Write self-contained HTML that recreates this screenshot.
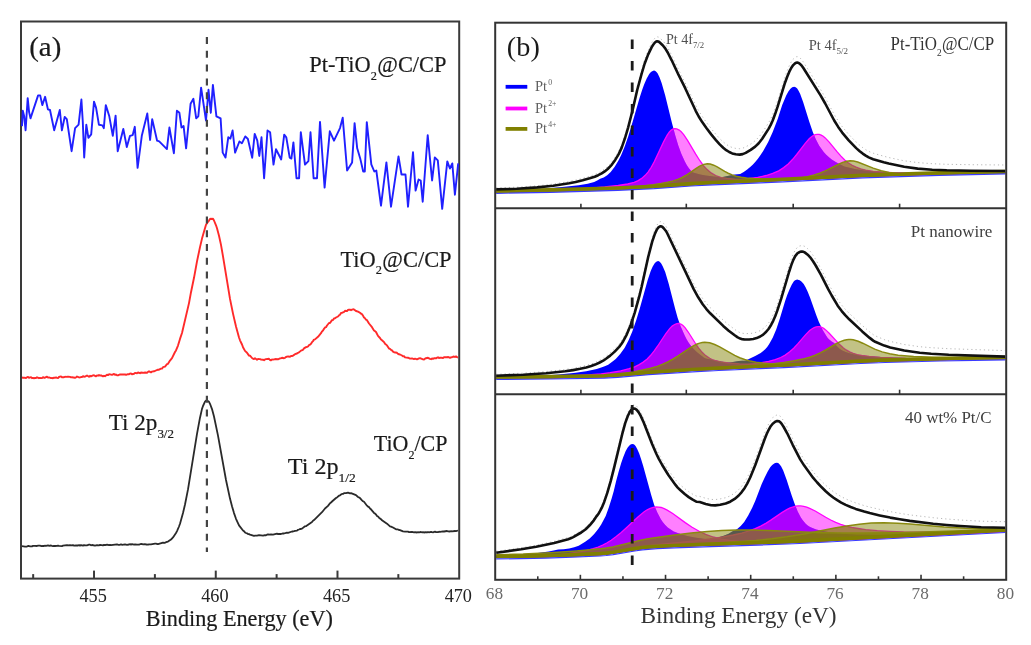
<!DOCTYPE html><html><head><meta charset="utf-8"><style>html,body{margin:0;padding:0;background:#fff;width:1031px;height:645px;overflow:hidden}svg{display:block;filter:blur(0.5px)}text{font-family:"Liberation Serif",serif}</style></head><body>
<svg width="1031" height="645" viewBox="0 0 1031 645">
<rect width="1031" height="645" fill="#fff"/>
<rect x="21" y="21.5" width="438.2" height="557.1" fill="none" stroke="#3a3a3a" stroke-width="2"/>
<line x1="33.17" y1="578.6" x2="33.17" y2="574.1" stroke="#3a3a3a" stroke-width="2"/>
<line x1="94.03" y1="578.6" x2="94.03" y2="570.6" stroke="#3a3a3a" stroke-width="2"/>
<line x1="154.89" y1="578.6" x2="154.89" y2="574.1" stroke="#3a3a3a" stroke-width="2"/>
<line x1="215.76" y1="578.6" x2="215.76" y2="570.6" stroke="#3a3a3a" stroke-width="2"/>
<line x1="276.62" y1="578.6" x2="276.62" y2="574.1" stroke="#3a3a3a" stroke-width="2"/>
<line x1="337.48" y1="578.6" x2="337.48" y2="570.6" stroke="#3a3a3a" stroke-width="2"/>
<line x1="398.34" y1="578.6" x2="398.34" y2="574.1" stroke="#3a3a3a" stroke-width="2"/>
<path d="M22.0,126.1 22.8,110.7 24.2,116.3 25.6,130.3 27.7,98.1 29.1,112.1 30.5,118.4 38.1,95.4 40.2,95.4 42.3,105.1 45.1,96.8 47.9,109.3 50.0,110.0 54.2,130.3 59.8,110.0 61.9,130.3 64.7,117.0 66.8,119.1 71.6,151.2 75.1,128.2 78.6,124.7 81.4,99.5 82.8,121.9 84.2,157.5 86.3,124.7 88.4,137.9 91.2,134.4 94.0,101.6 96.1,107.9 98.9,124.7 102.4,125.4 103.8,128.2 105.8,105.1 109.3,116.3 112.8,135.8 115.6,115.6 117.7,151.2 123.3,128.9 126.8,147.0 130.0,135.8 132.7,135.1 134.8,126.8 137.6,167.9 141.8,135.8 147.3,113.5 150.1,140.0 152.2,119.1 157.1,140.7 159.2,141.4 166.9,149.1 169.4,127.5 173.9,153.3 176.9,110.7 179.4,112.8 181.5,127.5 183.6,126.1 186.1,148.4 190.6,103.7 193.4,98.8 196.2,118.4 198.3,116.3 201.1,87.7 206.0,120.5 208.5,89.8 210.8,112.8 212.9,84.9 216.4,116.3 220.6,118.4 222.7,152.6 225.5,157.5 228.3,137.2 230.4,138.6 232.6,130.5 235.1,152.6 239.4,141.5 241.9,143.3 245.3,136.4 247.9,139.0 252.2,157.7 254.7,133.9 257.3,140.7 259.3,156.0 261.5,137.3 264.1,178.2 267.5,130.5 270.1,132.2 273.5,164.6 276.0,149.2 281.2,159.5 284.2,134.7 286.3,137.3 289.7,157.7 291.4,158.6 293.4,142.4 296.5,178.2 299.1,178.2 300.8,132.2 305.0,164.6 308.4,161.2 310.5,132.2 313.6,178.2 317.0,178.2 320.0,121.9 324.6,187.6 329.8,131.3 334.0,140.7 340.0,128.1 342.7,117.7 347.1,170.5 352.1,162.4 354.6,123.1 357.2,148.3 360.2,158.4 363.2,171.5 364.8,171.5 366.8,122.1 371.3,164.4 374.3,171.5 376.3,170.5 381.0,205.7 386.4,162.4 391.0,206.7 398.5,156.4 401.5,174.5 405.5,174.5 408.0,206.7 413.0,152.3 415.6,190.6 418.6,179.5 420.7,180.5 422.7,201.7 427.7,135.2 432.1,180.5 434.8,157.4 437.8,160.4 442.2,208.8 447.3,161.4 449.9,168.5 452.3,163.4 454.9,194.7 458.2,163.4" fill="none" stroke="#2020ff" stroke-width="1.9" stroke-linejoin="round"/>
<path d="M22.0,377.5 23.0,377.7 24.0,377.6 26.0,378.0 27.0,377.3 28.0,376.9 29.0,377.8 31.0,377.2 32.0,378.2 33.0,377.9 34.0,378.3 35.0,377.9 36.0,378.0 37.0,377.3 39.0,378.2 40.0,377.9 42.0,378.1 43.0,377.2 44.0,377.7 45.0,377.7 47.0,376.7 48.0,377.6 49.0,377.4 51.0,378.1 52.0,378.0 53.0,378.2 54.0,377.6 55.0,377.8 56.0,377.4 57.0,377.9 58.0,378.1 59.0,377.0 60.0,376.6 61.0,376.4 62.0,377.4 63.0,377.1 64.0,377.2 65.0,376.8 66.0,376.9 68.0,376.6 70.0,376.9 71.0,377.4 72.0,377.3 75.0,377.8 76.0,377.4 77.0,376.5 79.0,377.4 80.0,377.5 81.0,377.0 82.0,377.0 83.0,376.2 84.0,376.7 85.0,376.6 87.0,375.5 89.0,376.8 90.0,375.8 91.0,376.3 93.0,375.4 94.0,375.3 96.0,376.3 97.0,375.4 98.0,375.7 99.0,375.0 100.0,375.6 101.0,375.3 103.0,376.3 104.0,375.8 105.0,376.2 107.0,374.7 108.0,375.1 109.0,374.4 110.0,374.3 112.0,374.8 114.0,373.9 115.0,374.8 116.0,374.5 117.0,375.2 118.0,375.4 119.0,374.8 120.0,374.5 125.0,374.4 126.0,374.9 128.0,374.1 129.0,374.3 130.0,373.6 131.0,373.4 132.0,374.2 134.0,373.8 135.0,372.9 137.0,373.2 138.0,372.5 140.0,373.2 141.0,372.4 142.0,372.8 143.0,372.7 144.0,372.9 145.0,372.5 147.0,372.8 148.0,371.8 149.0,371.3 151.0,372.4 152.0,371.6 154.0,371.3 157.0,370.0 158.0,369.7 159.0,369.7 161.0,368.6 162.0,368.6 163.0,367.2 165.0,366.6 167.0,364.2 168.0,363.8 170.0,360.6 172.0,358.2 175.0,352.0 176.0,350.4 178.0,345.6 180.0,338.9 182.0,333.0 189.0,303.1 191.0,292.2 194.0,277.8 197.0,261.4 200.0,247.1 202.0,238.6 206.0,224.7 208.0,221.8 209.0,220.6 210.0,219.0 211.0,218.8 212.0,219.0 213.0,218.8 214.0,220.5 216.0,225.3 217.0,228.3 219.0,235.7 221.0,244.9 223.0,256.3 230.0,298.9 233.0,313.6 236.0,326.5 239.0,337.5 240.0,340.3 242.0,344.5 243.0,347.2 245.0,350.9 247.0,352.7 249.0,355.6 250.0,355.7 252.0,358.0 253.0,358.6 254.0,359.1 255.0,358.3 257.0,359.7 258.0,359.0 260.0,359.1 261.0,359.5 263.0,359.7 264.0,360.2 265.0,359.4 266.0,359.1 269.0,358.8 270.0,360.0 271.0,360.4 272.0,359.5 273.0,359.6 276.0,359.0 277.0,359.3 278.0,359.3 280.0,358.4 281.0,358.2 282.0,357.8 284.0,358.2 285.0,357.8 286.0,357.0 287.0,356.6 288.0,356.5 290.0,356.7 291.0,356.0 292.0,356.0 293.0,355.6 295.0,354.2 297.0,353.5 298.0,352.8 299.0,352.4 301.0,350.6 303.0,349.8 304.0,348.4 306.0,347.1 307.0,347.0 308.0,346.5 309.0,345.1 310.0,344.7 311.0,343.8 312.0,342.2 313.0,341.1 314.0,339.6 315.0,339.4 318.0,336.8 321.0,333.2 322.0,331.4 323.0,330.6 324.0,328.8 325.0,327.5 326.0,327.2 327.0,325.5 329.0,323.0 330.0,323.0 332.0,320.1 333.0,320.0 334.0,318.5 335.0,318.3 336.0,317.5 338.0,316.5 339.0,315.3 340.0,314.7 341.0,313.0 342.0,312.9 343.0,312.3 344.0,312.0 345.0,310.8 347.0,311.1 348.0,309.9 349.0,309.6 350.0,309.7 351.0,310.2 352.0,309.6 353.0,309.3 354.0,309.4 356.0,311.0 358.0,311.6 360.0,312.8 361.0,313.7 362.0,314.2 363.0,315.6 364.0,317.5 365.0,318.2 366.0,319.7 367.0,320.2 369.0,323.5 372.0,327.2 374.0,330.5 375.0,331.1 376.0,332.0 378.0,335.9 380.0,338.0 381.0,339.5 382.0,340.2 384.0,342.1 385.0,343.7 387.0,345.4 389.0,348.5 390.0,348.8 391.0,349.9 392.0,350.4 393.0,351.7 394.0,352.2 397.0,352.8 398.0,353.8 399.0,354.3 400.0,354.5 402.0,355.5 403.0,356.4 404.0,356.2 405.0,357.4 408.0,357.7 410.0,358.6 412.0,358.4 414.0,359.1 415.0,358.7 417.0,359.4 419.0,358.4 420.0,358.2 423.0,359.4 424.0,359.5 425.0,358.7 426.0,358.2 428.0,357.8 430.0,358.9 431.0,359.2 432.0,358.4 433.0,358.8 434.0,358.3 435.0,358.1 436.0,358.4 437.0,357.7 438.0,357.3 439.0,358.1 440.0,357.7 441.0,357.6 443.0,358.0 444.0,357.1 447.0,357.3 448.0,357.0 449.0,357.3 450.0,357.9 451.0,357.4 452.0,357.3 453.0,356.7 454.0,356.5 455.0,357.0 456.0,356.4 457.0,357.1 458.0,357.5" fill="none" stroke="#ff2a2a" stroke-width="1.9" stroke-linejoin="round"/>
<path d="M22.0,546.2 25.0,546.6 27.0,546.6 28.0,546.0 29.0,546.0 30.0,546.3 32.0,546.4 33.0,545.9 35.0,545.8 37.0,546.0 38.0,545.6 39.0,545.6 40.0,545.6 41.0,546.0 42.0,546.1 43.0,545.8 44.0,546.0 45.0,545.7 46.0,545.8 48.0,545.3 49.0,545.8 51.0,545.5 52.0,545.9 53.0,546.1 54.0,545.8 55.0,546.0 57.0,545.9 58.0,545.6 59.0,545.9 62.0,546.1 63.0,545.7 67.0,545.1 69.0,545.4 70.0,545.1 71.0,545.4 73.0,545.2 74.0,545.6 76.0,545.3 78.0,545.5 79.0,545.1 80.0,545.6 81.0,545.1 83.0,545.6 84.0,545.1 85.0,545.4 87.0,545.3 89.0,544.7 90.0,544.7 91.0,545.3 92.0,545.0 95.0,545.6 97.0,545.1 99.0,545.3 100.0,544.9 103.0,545.4 104.0,544.9 105.0,545.2 106.0,544.8 107.0,544.7 109.0,545.2 110.0,544.9 111.0,545.2 117.0,544.3 119.0,545.0 121.0,544.3 122.0,544.8 125.0,544.4 127.0,544.8 129.0,544.5 130.0,544.2 131.0,544.6 132.0,544.2 134.0,544.6 135.0,544.3 137.0,544.7 139.0,544.7 140.0,544.2 142.0,544.0 143.0,544.4 145.0,544.1 146.0,544.5 148.0,544.7 149.0,544.3 151.0,544.3 155.0,543.6 156.0,543.6 157.0,544.0 158.0,544.1 163.0,542.7 165.0,542.8 166.0,542.2 168.0,541.6 171.0,539.6 173.0,537.4 176.0,533.0 177.0,531.1 179.0,526.5 180.0,523.7 183.0,513.0 185.0,504.5 188.0,489.4 197.0,433.9 200.0,417.7 202.0,408.9 203.0,406.0 205.0,401.7 206.0,400.7 207.0,400.5 209.0,401.8 210.0,403.8 212.0,409.1 214.0,416.5 218.0,435.6 226.0,480.0 230.0,498.6 232.0,506.3 234.0,513.1 236.0,518.8 239.0,525.4 243.0,530.5 244.0,531.2 245.0,532.4 246.0,533.0 247.0,533.3 248.0,534.0 249.0,534.1 250.0,534.6 254.0,535.8 255.0,535.6 257.0,535.7 259.0,535.2 263.0,535.7 265.0,535.1 266.0,535.3 267.0,534.7 268.0,534.4 270.0,534.7 271.0,534.3 273.0,534.6 277.0,533.7 278.0,534.1 279.0,533.8 281.0,534.0 283.0,533.3 284.0,533.5 287.0,532.6 288.0,532.8 292.0,531.5 293.0,531.5 295.0,530.8 297.0,530.6 298.0,529.8 299.0,529.5 300.0,529.0 301.0,529.0 302.0,528.6 305.0,526.3 306.0,526.2 307.0,525.4 312.0,522.0 313.0,520.7 314.0,520.1 322.0,512.2 325.0,508.5 328.0,505.9 330.0,503.2 331.0,502.5 332.0,501.5 336.0,498.0 337.0,497.4 339.0,495.7 340.0,495.4 341.0,494.5 342.0,493.9 343.0,493.9 344.0,493.2 346.0,493.2 348.0,492.7 350.0,493.4 351.0,493.2 356.0,495.2 358.0,497.0 359.0,497.4 360.0,498.1 362.0,500.4 363.0,501.3 364.0,501.8 367.0,505.7 368.0,506.6 369.0,507.1 370.0,508.5 371.0,509.3 374.0,512.9 375.0,513.6 376.0,514.5 377.0,515.9 378.0,516.5 379.0,517.7 381.0,519.2 382.0,520.3 387.0,523.7 390.0,526.4 391.0,526.6 393.0,527.5 396.0,529.3 398.0,529.4 399.0,530.0 400.0,530.1 403.0,531.4 405.0,531.6 408.0,531.7 409.0,532.1 412.0,531.9 414.0,532.4 415.0,532.2 417.0,532.5 418.0,532.2 419.0,532.4 421.0,532.0 422.0,532.3 423.0,532.1 424.0,532.5 426.0,532.2 427.0,532.5 428.0,532.0 429.0,532.3 431.0,531.8 432.0,532.2 433.0,532.3 435.0,531.7 436.0,532.1 438.0,532.2 439.0,531.7 440.0,531.8 443.0,531.3 444.0,531.5 447.0,531.0 448.0,531.4 450.0,531.5 451.0,531.2 452.0,531.4 455.0,531.0 456.0,531.1 458.0,530.5" fill="none" stroke="#2a2a2a" stroke-width="1.8" stroke-linejoin="round"/>
<line x1="206.9" y1="37" x2="206.9" y2="552" stroke="#444" stroke-width="2.2" stroke-dasharray="7 6.8"/>
<text transform="translate(29.22,55.90) scale(1.026,1)" font-size="28.2" fill="#1a1a1a" stroke="#1a1a1a" stroke-width="0.2">(a)</text>
<text transform="translate(309.20,72.20) scale(0.934,1)" font-size="24" fill="#1a1a1a" stroke="#1a1a1a" stroke-width="0.2">Pt-TiO<tspan font-size="0.55em" dy="0.600em">2</tspan><tspan dy="-0.33em" dx="0.02em">@C/CP</tspan></text>
<text transform="translate(340.43,266.50) scale(0.942,1)" font-size="23.8" fill="#1a1a1a" stroke="#1a1a1a" stroke-width="0.2">TiO<tspan font-size="0.55em" dy="0.600em">2</tspan><tspan dy="-0.33em" dx="0.02em">@C/CP</tspan></text>
<text transform="translate(373.82,451.20) scale(0.956,1)" font-size="23" fill="#1a1a1a" stroke="#1a1a1a" stroke-width="0.2">TiO<tspan font-size="0.55em" dy="0.600em">2</tspan><tspan dy="-0.33em">/CP</tspan></text>
<text transform="translate(108.72,430.10) scale(0.964,1)" font-size="24" fill="#1a1a1a" stroke="#1a1a1a" stroke-width="0.2">Ti 2p<tspan font-size="0.56em" dy="0.589em">3/2</tspan></text>
<text transform="translate(287.80,474.30) scale(1.005,1)" font-size="24" fill="#1a1a1a" stroke="#1a1a1a" stroke-width="0.2">Ti 2p<tspan font-size="0.56em" dy="0.589em">1/2</tspan></text>
<text transform="translate(145.86,625.90) scale(0.987,1)" font-size="22.5" fill="#1a1a1a" stroke="#1a1a1a" stroke-width="0.2">Binding Energy (eV)</text>
<text transform="translate(93.13,601.60) scale(0.960,1)" font-size="19" fill="#222222" text-anchor="middle">455</text>
<text transform="translate(214.86,601.60) scale(0.960,1)" font-size="19" fill="#222222" text-anchor="middle">460</text>
<text transform="translate(336.58,601.60) scale(0.960,1)" font-size="19" fill="#222222" text-anchor="middle">465</text>
<text transform="translate(458.30,601.60) scale(0.960,1)" font-size="19" fill="#222222" text-anchor="middle">470</text>
<clipPath id="cb0"><path d="M496.2,190.8 520.7,189.9 542.7,188.7 562.2,187.1 578.7,185.2 587.7,183.7 594.2,181.9 597.2,180.6 600.2,178.8 603.7,177.5 607.2,175.2 610.7,171.9 614.7,166.8 618.2,161.1 621.2,155.1 624.7,146.6 628.2,136.4 631.7,125.0 639.7,97.5 642.2,89.8 644.2,84.2 646.7,78.4 649.2,74.1 650.7,72.3 651.7,71.5 653.2,70.7 654.2,70.6 655.7,71.2 656.7,72.2 657.7,73.6 659.7,77.7 661.7,83.2 665.2,95.6 671.7,121.9 675.2,135.2 678.2,145.3 681.2,153.6 684.7,161.3 686.7,164.9 688.7,168.0 692.2,172.3 694.7,173.1 700.2,174.5 705.7,175.4 713.7,176.4 723.2,177.3 744.7,178.4 769.7,178.7 801.7,178.2 869.2,175.8 924.7,174.3 967.7,173.3 1005.2,172.7 1005.2,173.1 937.7,174.5 860.2,177.1 782.7,181.0 707.2,184.3 691.2,185.2 654.2,187.9 619.2,189.5 551.2,191.5 496.2,192.5 Z"/><path d="M496.2,192.1 538.7,191.3 586.2,189.8 619.7,188.4 649.7,186.5 672.2,184.3 703.7,180.3 716.7,178.3 734.7,174.6 740.2,173.9 743.7,171.9 747.2,169.5 750.2,167.1 752.7,164.8 755.2,162.1 757.7,159.0 760.2,155.6 763.2,150.9 768.2,141.9 772.7,131.9 777.7,119.0 782.2,105.1 786.2,95.5 788.2,91.7 790.2,89.0 792.2,87.3 793.2,86.9 794.2,86.7 795.7,87.2 797.2,88.6 798.7,90.9 800.2,94.1 803.2,102.3 809.2,121.6 812.7,131.8 815.7,139.1 819.2,145.7 823.7,152.0 826.2,154.8 828.7,157.1 831.7,159.4 835.7,161.9 844.2,166.5 854.7,168.9 864.7,170.4 877.2,171.6 891.7,172.4 907.7,172.7 927.7,172.8 1005.2,172.3 1005.2,173.1 971.7,173.7 935.2,174.6 881.7,176.3 857.2,177.2 782.7,181.0 706.7,184.3 691.2,185.2 654.7,187.9 621.2,189.5 552.7,191.5 496.2,192.5 Z"/></clipPath>
<clipPath id="cbm0"><path d="M496.2,190.8 520.7,189.9 542.7,188.7 562.2,187.1 578.7,185.2 587.7,183.7 594.2,181.9 597.2,180.6 600.2,178.8 603.7,177.5 607.2,175.2 610.7,171.9 614.7,166.8 618.2,161.1 621.2,155.1 624.7,146.6 628.2,136.4 631.7,125.0 639.7,97.5 642.2,89.8 644.2,84.2 646.7,78.4 649.2,74.1 650.7,72.3 651.7,71.5 653.2,70.7 654.2,70.6 655.7,71.2 656.7,72.2 657.7,73.6 659.7,77.7 661.7,83.2 665.2,95.6 671.7,121.9 675.2,135.2 678.2,145.3 681.2,153.6 684.7,161.3 686.7,164.9 688.7,168.0 692.2,172.3 694.7,173.1 700.2,174.5 705.7,175.4 713.7,176.4 723.2,177.3 744.7,178.4 769.7,178.7 801.7,178.2 869.2,175.8 924.7,174.3 967.7,173.3 1005.2,172.7 1005.2,173.1 937.7,174.5 860.2,177.1 782.7,181.0 707.2,184.3 691.2,185.2 654.2,187.9 619.2,189.5 551.2,191.5 496.2,192.5 Z"/><path d="M496.2,192.1 538.7,191.3 586.2,189.8 619.7,188.4 649.7,186.5 672.2,184.3 703.7,180.3 716.7,178.3 734.7,174.6 740.2,173.9 743.7,171.9 747.2,169.5 750.2,167.1 752.7,164.8 755.2,162.1 757.7,159.0 760.2,155.6 763.2,150.9 768.2,141.9 772.7,131.9 777.7,119.0 782.2,105.1 786.2,95.5 788.2,91.7 790.2,89.0 792.2,87.3 793.2,86.9 794.2,86.7 795.7,87.2 797.2,88.6 798.7,90.9 800.2,94.1 803.2,102.3 809.2,121.6 812.7,131.8 815.7,139.1 819.2,145.7 823.7,152.0 826.2,154.8 828.7,157.1 831.7,159.4 835.7,161.9 844.2,166.5 854.7,168.9 864.7,170.4 877.2,171.6 891.7,172.4 907.7,172.7 927.7,172.8 1005.2,172.3 1005.2,173.1 971.7,173.7 935.2,174.6 881.7,176.3 857.2,177.2 782.7,181.0 706.7,184.3 691.2,185.2 654.7,187.9 621.2,189.5 552.7,191.5 496.2,192.5 Z"/><path d="M496.2,191.8 521.2,191.3 545.7,190.5 568.2,189.5 588.2,188.3 604.7,187.0 618.2,185.5 627.7,184.0 634.2,182.3 638.2,180.6 641.7,178.4 645.2,175.3 648.2,171.8 651.2,167.3 654.2,161.9 663.7,141.6 667.2,135.1 669.2,132.2 671.2,130.1 673.2,128.9 674.7,128.6 676.7,128.9 679.2,130.1 681.2,131.8 683.7,134.7 687.7,140.6 695.7,154.2 699.7,160.5 703.7,165.9 707.2,169.6 711.2,172.9 715.7,175.5 720.7,177.3 726.7,178.4 734.7,179.2 745.7,179.5 761.7,179.7 779.7,179.5 803.2,178.8 861.7,176.5 893.2,175.5 955.2,173.8 1005.2,172.9 1005.2,173.1 968.7,173.7 928.7,174.8 861.2,177.1 782.7,181.0 707.2,184.3 691.2,185.2 654.2,187.9 618.2,189.6 550.7,191.5 496.2,192.5 Z"/><path d="M496.2,192.3 533.7,191.7 576.7,190.5 613.7,189.3 644.7,187.7 663.2,186.5 728.7,180.9 745.2,179.2 757.7,177.3 766.2,175.5 772.7,173.4 778.7,170.8 783.7,167.6 788.2,163.9 792.7,159.3 796.7,154.5 805.2,143.4 809.2,138.8 811.2,137.0 813.2,135.6 815.2,134.7 817.2,134.3 819.2,134.4 821.2,135.1 823.2,136.3 825.2,137.9 829.2,142.1 837.2,151.9 840.7,155.9 844.7,159.9 848.2,162.7 852.2,165.3 856.2,167.2 860.7,168.8 865.7,170.1 873.2,171.3 882.2,172.1 892.7,172.7 905.7,173.1 935.7,173.2 1005.2,172.5 1005.2,173.1 936.2,174.6 885.7,176.1 858.7,177.2 782.7,181.0 706.7,184.3 691.2,185.2 654.7,187.9 620.2,189.5 552.2,191.5 496.2,192.5 Z"/></clipPath>
<path d="M496.2,190.8 520.7,189.9 542.7,188.7 562.2,187.1 578.7,185.2 587.7,183.7 594.2,181.9 597.2,180.6 600.2,178.8 603.7,177.5 607.2,175.2 610.7,171.9 614.7,166.8 618.2,161.1 621.2,155.1 624.7,146.6 628.2,136.4 631.7,125.0 639.7,97.5 642.2,89.8 644.2,84.2 646.7,78.4 649.2,74.1 650.7,72.3 651.7,71.5 653.2,70.7 654.2,70.6 655.7,71.2 656.7,72.2 657.7,73.6 659.7,77.7 661.7,83.2 665.2,95.6 671.7,121.9 675.2,135.2 678.2,145.3 681.2,153.6 684.7,161.3 686.7,164.9 688.7,168.0 692.2,172.3 694.7,173.1 700.2,174.5 705.7,175.4 713.7,176.4 723.2,177.3 744.7,178.4 769.7,178.7 801.7,178.2 869.2,175.8 924.7,174.3 967.7,173.3 1005.2,172.7 1005.2,173.1 937.7,174.5 860.2,177.1 782.7,181.0 707.2,184.3 691.2,185.2 654.2,187.9 619.2,189.5 551.2,191.5 496.2,192.5 Z" fill="#0000ff"/>
<path d="M496.2,192.1 538.7,191.3 586.2,189.8 619.7,188.4 649.7,186.5 672.2,184.3 703.7,180.3 716.7,178.3 734.7,174.6 740.2,173.9 743.7,171.9 747.2,169.5 750.2,167.1 752.7,164.8 755.2,162.1 757.7,159.0 760.2,155.6 763.2,150.9 768.2,141.9 772.7,131.9 777.7,119.0 782.2,105.1 786.2,95.5 788.2,91.7 790.2,89.0 792.2,87.3 793.2,86.9 794.2,86.7 795.7,87.2 797.2,88.6 798.7,90.9 800.2,94.1 803.2,102.3 809.2,121.6 812.7,131.8 815.7,139.1 819.2,145.7 823.7,152.0 826.2,154.8 828.7,157.1 831.7,159.4 835.7,161.9 844.2,166.5 854.7,168.9 864.7,170.4 877.2,171.6 891.7,172.4 907.7,172.7 927.7,172.8 1005.2,172.3 1005.2,173.1 971.7,173.7 935.2,174.6 881.7,176.3 857.2,177.2 782.7,181.0 706.7,184.3 691.2,185.2 654.7,187.9 621.2,189.5 552.7,191.5 496.2,192.5 Z" fill="#0000ff"/>
<path d="M496.2,191.8 521.2,191.3 545.7,190.5 568.2,189.5 588.2,188.3 604.7,187.0 618.2,185.5 627.7,184.0 634.2,182.3 638.2,180.6 641.7,178.4 645.2,175.3 648.2,171.8 651.2,167.3 654.2,161.9 663.7,141.6 667.2,135.1 669.2,132.2 671.2,130.1 673.2,128.9 674.7,128.6 676.7,128.9 679.2,130.1 681.2,131.8 683.7,134.7 687.7,140.6 695.7,154.2 699.7,160.5 703.7,165.9 707.2,169.6 711.2,172.9 715.7,175.5 720.7,177.3 726.7,178.4 734.7,179.2 745.7,179.5 761.7,179.7 779.7,179.5 803.2,178.8 861.7,176.5 893.2,175.5 955.2,173.8 1005.2,172.9 1005.2,173.1 968.7,173.7 928.7,174.8 861.2,177.1 782.7,181.0 707.2,184.3 691.2,185.2 654.2,187.9 618.2,189.6 550.7,191.5 496.2,192.5 Z" fill="#ff00ff" fill-opacity="0.5"/>
<path d="M496.2,192.3 533.7,191.7 576.7,190.5 613.7,189.3 644.7,187.7 663.2,186.5 728.7,180.9 745.2,179.2 757.7,177.3 766.2,175.5 772.7,173.4 778.7,170.8 783.7,167.6 788.2,163.9 792.7,159.3 796.7,154.5 805.2,143.4 809.2,138.8 811.2,137.0 813.2,135.6 815.2,134.7 817.2,134.3 819.2,134.4 821.2,135.1 823.2,136.3 825.2,137.9 829.2,142.1 837.2,151.9 840.7,155.9 844.7,159.9 848.2,162.7 852.2,165.3 856.2,167.2 860.7,168.8 865.7,170.1 873.2,171.3 882.2,172.1 892.7,172.7 905.7,173.1 935.7,173.2 1005.2,172.5 1005.2,173.1 936.2,174.6 885.7,176.1 858.7,177.2 782.7,181.0 706.7,184.3 691.2,185.2 654.7,187.9 620.2,189.5 552.2,191.5 496.2,192.5 Z" fill="#ff00ff" fill-opacity="0.5"/>
<g clip-path="url(#cb0)"><path d="M496.2,191.8 521.2,191.3 545.7,190.5 568.2,189.5 588.2,188.3 604.7,187.0 618.2,185.5 627.7,184.0 634.2,182.3 638.2,180.6 641.7,178.4 645.2,175.3 648.2,171.8 651.2,167.3 654.2,161.9 663.7,141.6 667.2,135.1 669.2,132.2 671.2,130.1 673.2,128.9 674.7,128.6 676.7,128.9 679.2,130.1 681.2,131.8 683.7,134.7 687.7,140.6 695.7,154.2 699.7,160.5 703.7,165.9 707.2,169.6 711.2,172.9 715.7,175.5 720.7,177.3 726.7,178.4 734.7,179.2 745.7,179.5 761.7,179.7 779.7,179.5 803.2,178.8 861.7,176.5 893.2,175.5 955.2,173.8 1005.2,172.9 1005.2,173.1 968.7,173.7 928.7,174.8 861.2,177.1 782.7,181.0 707.2,184.3 691.2,185.2 654.2,187.9 618.2,189.6 550.7,191.5 496.2,192.5 Z" fill="#ff00ff" fill-opacity="0.34"/><path d="M496.2,192.3 533.7,191.7 576.7,190.5 613.7,189.3 644.7,187.7 663.2,186.5 728.7,180.9 745.2,179.2 757.7,177.3 766.2,175.5 772.7,173.4 778.7,170.8 783.7,167.6 788.2,163.9 792.7,159.3 796.7,154.5 805.2,143.4 809.2,138.8 811.2,137.0 813.2,135.6 815.2,134.7 817.2,134.3 819.2,134.4 821.2,135.1 823.2,136.3 825.2,137.9 829.2,142.1 837.2,151.9 840.7,155.9 844.7,159.9 848.2,162.7 852.2,165.3 856.2,167.2 860.7,168.8 865.7,170.1 873.2,171.3 882.2,172.1 892.7,172.7 905.7,173.1 935.7,173.2 1005.2,172.5 1005.2,173.1 936.2,174.6 885.7,176.1 858.7,177.2 782.7,181.0 706.7,184.3 691.2,185.2 654.7,187.9 620.2,189.5 552.2,191.5 496.2,192.5 Z" fill="#ff00ff" fill-opacity="0.34"/></g>
<path d="M496.2,191.8 521.2,191.3 545.7,190.5 568.2,189.5 588.2,188.3 604.7,187.0 618.2,185.5 627.7,184.0 634.2,182.3 638.2,180.6 641.7,178.4 645.2,175.3 648.2,171.8 651.2,167.3 654.2,161.9 663.7,141.6 667.2,135.1 669.2,132.2 671.2,130.1 673.2,128.9 674.7,128.6 676.7,128.9 679.2,130.1 681.2,131.8 683.7,134.7 687.7,140.6 695.7,154.2 699.7,160.5 703.7,165.9 707.2,169.6 711.2,172.9 715.7,175.5 720.7,177.3 726.7,178.4 734.7,179.2 745.7,179.5 761.7,179.7 779.7,179.5 803.2,178.8 861.7,176.5 893.2,175.5 955.2,173.8 1005.2,172.9" fill="none" stroke="#ff00ff" stroke-width="1.3"/>
<path d="M496.2,192.3 533.7,191.7 576.7,190.5 613.7,189.3 644.7,187.7 663.2,186.5 728.7,180.9 745.2,179.2 757.7,177.3 766.2,175.5 772.7,173.4 778.7,170.8 783.7,167.6 788.2,163.9 792.7,159.3 796.7,154.5 805.2,143.4 809.2,138.8 811.2,137.0 813.2,135.6 815.2,134.7 817.2,134.3 819.2,134.4 821.2,135.1 823.2,136.3 825.2,137.9 829.2,142.1 837.2,151.9 840.7,155.9 844.7,159.9 848.2,162.7 852.2,165.3 856.2,167.2 860.7,168.8 865.7,170.1 873.2,171.3 882.2,172.1 892.7,172.7 905.7,173.1 935.7,173.2 1005.2,172.5" fill="none" stroke="#ff00ff" stroke-width="1.3"/>
<path d="M496.2,192.2 547.2,191.1 599.2,189.2 614.7,188.3 628.7,187.3 641.7,186.2 653.2,184.8 661.2,183.6 667.7,182.3 673.2,180.9 677.7,179.4 681.7,177.7 685.7,175.5 696.2,168.3 699.7,166.1 703.7,164.4 707.2,163.8 710.2,164.1 713.7,165.2 717.2,166.9 724.7,171.3 728.2,173.2 732.2,174.9 736.2,176.2 741.2,177.2 746.7,177.9 753.7,178.5 762.7,178.9 779.2,179.1 798.2,178.8 869.2,176.2 908.2,175.1 961.2,173.7 1005.2,172.9 1005.2,173.1 969.7,173.7 931.2,174.7 861.7,177.0 782.7,181.0 707.2,184.3 691.2,185.2 654.2,187.9 618.2,189.6 550.7,191.5 496.2,192.5 Z" fill="#808000" fill-opacity="0.48"/>
<path d="M496.2,192.4 525.7,192.0 559.2,191.3 603.7,190.0 629.2,189.0 656.7,187.6 699.2,184.5 763.7,181.2 786.7,179.6 795.2,178.7 802.2,177.7 808.2,176.5 814.2,175.0 819.7,173.2 825.2,170.9 839.2,164.0 842.7,162.4 846.7,161.2 850.2,160.7 853.7,161.0 857.7,162.0 873.2,168.1 881.2,170.7 889.2,172.4 898.2,173.5 908.7,174.0 922.7,174.1 1005.2,172.9 1005.2,173.1 968.7,173.7 928.7,174.8 861.2,177.1 782.7,181.0 707.2,184.3 691.2,185.2 654.2,187.9 618.7,189.6 551.2,191.5 496.2,192.5 Z" fill="#808000" fill-opacity="0.48"/>
<g clip-path="url(#cbm0)"><path d="M496.2,192.2 547.2,191.1 599.2,189.2 614.7,188.3 628.7,187.3 641.7,186.2 653.2,184.8 661.2,183.6 667.7,182.3 673.2,180.9 677.7,179.4 681.7,177.7 685.7,175.5 696.2,168.3 699.7,166.1 703.7,164.4 707.2,163.8 710.2,164.1 713.7,165.2 717.2,166.9 724.7,171.3 728.2,173.2 732.2,174.9 736.2,176.2 741.2,177.2 746.7,177.9 753.7,178.5 762.7,178.9 779.2,179.1 798.2,178.8 869.2,176.2 908.2,175.1 961.2,173.7 1005.2,172.9 1005.2,173.1 969.7,173.7 931.2,174.7 861.7,177.0 782.7,181.0 707.2,184.3 691.2,185.2 654.2,187.9 618.2,189.6 550.7,191.5 496.2,192.5 Z" fill="#808000" fill-opacity="0.42"/><path d="M496.2,192.4 525.7,192.0 559.2,191.3 603.7,190.0 629.2,189.0 656.7,187.6 699.2,184.5 763.7,181.2 786.7,179.6 795.2,178.7 802.2,177.7 808.2,176.5 814.2,175.0 819.7,173.2 825.2,170.9 839.2,164.0 842.7,162.4 846.7,161.2 850.2,160.7 853.7,161.0 857.7,162.0 873.2,168.1 881.2,170.7 889.2,172.4 898.2,173.5 908.7,174.0 922.7,174.1 1005.2,172.9 1005.2,173.1 968.7,173.7 928.7,174.8 861.2,177.1 782.7,181.0 707.2,184.3 691.2,185.2 654.2,187.9 618.7,189.6 551.2,191.5 496.2,192.5 Z" fill="#808000" fill-opacity="0.42"/></g>
<path d="M496.2,192.2 547.2,191.1 599.2,189.2 614.7,188.3 628.7,187.3 641.7,186.2 653.2,184.8 661.2,183.6 667.7,182.3 673.2,180.9 677.7,179.4 681.7,177.7 685.7,175.5 696.2,168.3 699.7,166.1 703.7,164.4 707.2,163.8 710.2,164.1 713.7,165.2 717.2,166.9 724.7,171.3 728.2,173.2 732.2,174.9 736.2,176.2 741.2,177.2 746.7,177.9 753.7,178.5 762.7,178.9 779.2,179.1 798.2,178.8 869.2,176.2 908.2,175.1 961.2,173.7 1005.2,172.9" fill="none" stroke="#8a8a10" stroke-width="1.5"/>
<path d="M496.2,192.4 525.7,192.0 559.2,191.3 603.7,190.0 629.2,189.0 656.7,187.6 699.2,184.5 763.7,181.2 786.7,179.6 795.2,178.7 802.2,177.7 808.2,176.5 814.2,175.0 819.7,173.2 825.2,170.9 839.2,164.0 842.7,162.4 846.7,161.2 850.2,160.7 853.7,161.0 857.7,162.0 873.2,168.1 881.2,170.7 889.2,172.4 898.2,173.5 908.7,174.0 922.7,174.1 1005.2,172.9" fill="none" stroke="#8a8a10" stroke-width="1.5"/>
<path d="M1005.2,173.9 939.2,175.3 862.7,177.8 782.7,181.8 707.2,185.1 691.2,186.0 654.2,188.7 617.7,190.4 550.2,192.3 496.2,193.3" fill="none" stroke="#3a3aff" stroke-width="1.2"/>
<path d="M1005.2,171.4 939.2,172.8 862.7,175.3 782.7,179.3 707.2,182.6 691.2,183.5 654.2,186.2 617.7,187.9 550.2,189.8 496.2,190.8" fill="none" stroke="#808000" stroke-width="3.4"/>
<path d="M496.2,187.9 516.7,187.2 537.7,185.8 553.2,184.1 569.2,181.5 575.2,180.2 582.2,178.5 589.2,176.4 594.2,174.7 598.2,173.0 601.7,171.1 604.7,169.0 607.7,166.5 611.7,162.2 615.2,157.2 618.7,151.3 621.7,144.6 625.2,134.4 628.2,124.1 632.7,106.2 637.2,86.4 641.7,69.7 644.7,59.6 648.2,50.3 651.7,42.9 653.2,40.4 654.7,38.4 656.2,37.2 657.2,36.8 658.2,37.0 659.2,37.5 662.7,40.6 665.2,43.6 667.7,47.6 671.7,55.3 678.7,70.0 685.2,82.9 695.7,105.3 698.7,110.9 702.2,116.4 706.2,122.1 711.2,128.6 715.7,134.1 719.7,138.6 723.2,141.9 726.2,144.3 729.2,146.2 732.2,147.5 735.7,148.4 739.7,148.7 742.7,148.2 745.7,146.9 750.7,144.0 755.2,140.7 758.7,137.2 762.2,132.8 768.7,122.6 770.7,118.9 772.7,114.5 775.2,107.8 777.7,100.4 784.7,77.6 787.2,70.7 789.2,65.9 791.2,62.0 793.2,59.1 795.2,57.2 796.2,56.8 797.2,56.6 798.7,57.0 800.2,58.1 801.7,59.7 803.2,61.8 820.7,89.6 825.2,97.6 834.2,114.5 838.2,120.9 842.2,126.6 848.7,134.4 856.2,142.1 859.7,145.2 862.7,147.6 865.7,149.6 868.7,151.4 873.2,153.2 883.7,156.2 888.7,157.5 904.2,160.8 917.7,162.6 932.2,163.7 946.7,164.3 971.2,164.7 1005.2,165.0" fill="none" stroke="#b8b8b8" stroke-width="1" stroke-dasharray="1.2 3"/>
<path d="M496.2,189.4 516.7,188.8 537.2,187.4 553.2,185.7 569.2,183.2 575.7,181.9 582.7,180.2 589.7,178.3 594.7,176.7 598.2,175.2 601.7,173.4 604.7,171.4 607.7,169.0 611.7,164.8 615.2,159.9 618.7,154.1 621.7,147.6 625.2,137.5 628.2,127.3 632.7,109.7 637.2,90.0 641.7,73.5 644.7,63.5 648.2,54.4 651.7,47.1 653.2,44.7 654.7,42.8 656.2,41.6 657.2,41.3 658.2,41.5 659.2,42.0 662.7,45.3 665.2,48.4 667.7,52.5 671.7,60.3 678.7,75.2 685.2,88.2 695.7,110.8 698.7,116.5 702.2,122.1 706.2,127.8 711.2,134.4 715.7,139.9 719.7,144.4 723.2,147.8 726.2,150.2 729.2,152.0 732.2,153.4 735.7,154.3 739.7,154.6 742.7,154.1 745.7,152.9 750.7,149.9 755.2,146.6 758.7,143.2 762.2,138.8 768.7,128.6 770.7,124.9 772.7,120.5 775.2,113.8 777.7,106.4 784.7,83.6 787.2,76.7 789.2,71.9 791.2,68.0 793.2,65.1 795.2,63.2 796.2,62.8 797.2,62.6 798.7,63.0 800.2,64.1 801.7,65.7 803.2,67.8 820.7,95.6 825.2,103.5 834.2,120.5 838.2,126.9 842.2,132.6 848.7,140.4 856.2,148.1 859.7,151.2 862.7,153.6 865.7,155.6 868.7,157.4 873.2,159.2 883.7,162.2 888.7,163.5 904.2,166.8 917.7,168.6 932.2,169.7 946.7,170.3 971.2,170.7 1005.2,171.0" fill="none" stroke="#111" stroke-width="2.6" stroke-linejoin="round"/>
<clipPath id="cb1"><path d="M496.2,377.2 520.2,376.6 541.2,375.8 558.7,374.6 573.7,373.1 586.2,371.3 596.7,369.0 601.2,367.6 604.7,366.3 608.2,364.7 610.2,363.3 613.2,361.1 615.7,358.9 618.2,356.3 620.2,354.0 624.7,347.7 628.7,340.1 632.2,331.8 636.2,320.3 639.7,308.7 647.7,280.1 650.7,271.1 652.7,266.5 654.7,263.3 655.7,262.2 656.7,261.5 658.2,261.1 659.7,261.8 661.2,263.5 662.7,266.2 665.2,272.1 668.7,283.8 675.2,309.0 677.7,317.9 680.7,326.5 684.7,335.6 686.7,339.4 688.7,342.7 690.7,345.5 693.2,348.4 696.2,351.4 699.2,354.0 703.7,357.4 705.7,358.6 722.2,361.8 734.7,363.4 751.2,364.4 771.2,364.7 785.2,364.6 801.2,364.2 857.7,361.9 879.7,361.2 953.7,359.5 1005.2,358.8 1005.2,359.1 968.7,359.6 927.2,360.5 878.7,361.9 859.2,362.7 784.2,366.8 718.7,369.7 692.2,371.1 648.7,373.9 617.7,376.5 604.2,377.3 550.7,378.2 496.2,378.6 Z"/><path d="M496.2,378.1 528.7,377.9 561.2,377.4 599.7,376.4 610.2,375.9 622.2,374.8 691.7,367.8 715.2,364.9 738.7,361.1 742.2,360.8 745.2,360.8 755.2,356.1 760.7,353.1 763.2,351.1 765.2,349.2 767.2,346.9 769.2,344.1 772.7,337.8 776.2,329.4 779.7,319.1 785.2,300.8 787.2,295.1 789.7,288.9 791.7,284.7 793.7,281.6 794.7,280.6 795.7,280.0 797.2,279.6 798.7,279.9 799.7,280.3 801.7,281.7 803.7,284.1 805.7,287.4 807.7,291.7 810.2,297.9 816.2,315.1 818.7,321.4 822.7,329.9 826.2,335.8 827.7,337.9 829.2,339.6 831.7,341.6 834.2,342.9 836.7,346.1 839.2,348.4 842.2,350.5 845.7,352.1 848.7,353.1 852.2,354.0 861.7,355.5 875.7,356.8 892.2,357.6 907.7,358.1 926.7,358.3 1005.2,358.2 1005.2,359.1 973.2,359.5 937.2,360.3 879.2,361.9 856.7,362.8 784.2,366.8 718.7,369.7 691.7,371.1 648.7,373.9 618.2,376.5 604.7,377.3 551.2,378.2 496.2,378.6 Z"/></clipPath>
<clipPath id="cbm1"><path d="M496.2,377.2 520.2,376.6 541.2,375.8 558.7,374.6 573.7,373.1 586.2,371.3 596.7,369.0 601.2,367.6 604.7,366.3 608.2,364.7 610.2,363.3 613.2,361.1 615.7,358.9 618.2,356.3 620.2,354.0 624.7,347.7 628.7,340.1 632.2,331.8 636.2,320.3 639.7,308.7 647.7,280.1 650.7,271.1 652.7,266.5 654.7,263.3 655.7,262.2 656.7,261.5 658.2,261.1 659.7,261.8 661.2,263.5 662.7,266.2 665.2,272.1 668.7,283.8 675.2,309.0 677.7,317.9 680.7,326.5 684.7,335.6 686.7,339.4 688.7,342.7 690.7,345.5 693.2,348.4 696.2,351.4 699.2,354.0 703.7,357.4 705.7,358.6 722.2,361.8 734.7,363.4 751.2,364.4 771.2,364.7 785.2,364.6 801.2,364.2 857.7,361.9 879.7,361.2 953.7,359.5 1005.2,358.8 1005.2,359.1 968.7,359.6 927.2,360.5 878.7,361.9 859.2,362.7 784.2,366.8 718.7,369.7 692.2,371.1 648.7,373.9 617.7,376.5 604.2,377.3 550.7,378.2 496.2,378.6 Z"/><path d="M496.2,378.1 528.7,377.9 561.2,377.4 599.7,376.4 610.2,375.9 622.2,374.8 691.7,367.8 715.2,364.9 738.7,361.1 742.2,360.8 745.2,360.8 755.2,356.1 760.7,353.1 763.2,351.1 765.2,349.2 767.2,346.9 769.2,344.1 772.7,337.8 776.2,329.4 779.7,319.1 785.2,300.8 787.2,295.1 789.7,288.9 791.7,284.7 793.7,281.6 794.7,280.6 795.7,280.0 797.2,279.6 798.7,279.9 799.7,280.3 801.7,281.7 803.7,284.1 805.7,287.4 807.7,291.7 810.2,297.9 816.2,315.1 818.7,321.4 822.7,329.9 826.2,335.8 827.7,337.9 829.2,339.6 831.7,341.6 834.2,342.9 836.7,346.1 839.2,348.4 842.2,350.5 845.7,352.1 848.7,353.1 852.2,354.0 861.7,355.5 875.7,356.8 892.2,357.6 907.7,358.1 926.7,358.3 1005.2,358.2 1005.2,359.1 973.2,359.5 937.2,360.3 879.2,361.9 856.7,362.8 784.2,366.8 718.7,369.7 691.7,371.1 648.7,373.9 618.2,376.5 604.7,377.3 551.2,378.2 496.2,378.6 Z"/><path d="M496.2,377.8 523.2,377.4 547.7,376.8 569.2,376.0 587.7,374.9 601.2,373.8 610.2,372.7 620.7,370.8 629.2,368.7 634.7,366.8 639.2,364.6 643.2,362.1 647.2,358.9 650.7,355.3 654.2,350.9 657.7,346.0 665.7,333.8 669.7,328.6 672.2,326.1 674.2,324.7 676.2,323.8 678.2,323.4 679.7,323.7 681.7,324.6 683.2,325.8 685.2,327.9 688.2,332.0 695.2,343.0 698.7,348.1 702.2,352.3 705.7,355.6 709.7,358.3 712.2,359.5 714.7,360.4 720.7,361.9 728.2,363.0 739.7,363.9 752.7,364.5 767.2,364.8 783.2,364.7 806.7,364.1 856.2,362.0 878.2,361.3 953.2,359.5 1005.2,358.9 1005.2,359.1 969.7,359.6 929.7,360.4 879.2,361.9 859.7,362.7 784.2,366.8 718.7,369.7 692.2,371.1 648.7,373.9 617.7,376.5 604.2,377.3 550.7,378.2 496.2,378.6 Z"/><path d="M496.2,378.3 558.2,377.8 596.2,377.0 608.7,376.5 620.7,375.6 647.7,373.1 726.2,366.8 745.2,364.9 760.2,362.9 768.7,361.3 775.2,359.6 780.7,357.5 785.2,355.1 789.7,351.8 793.7,348.2 797.7,343.9 805.7,334.6 809.7,330.6 812.2,328.7 814.2,327.6 816.2,326.9 818.2,326.6 819.7,326.7 821.7,327.3 823.7,328.4 825.7,329.9 829.2,333.2 839.7,344.6 843.2,347.7 846.2,349.9 849.7,351.9 853.2,353.3 857.2,354.6 861.7,355.5 869.2,356.4 880.2,357.3 892.2,358.0 905.7,358.4 934.2,358.6 1005.2,358.4 1005.2,359.1 973.2,359.5 937.7,360.2 879.2,361.9 857.7,362.8 784.2,366.8 718.7,369.7 691.7,371.1 648.7,373.9 618.2,376.5 604.7,377.3 551.2,378.2 496.2,378.6 Z"/></clipPath>
<path d="M496.2,377.2 520.2,376.6 541.2,375.8 558.7,374.6 573.7,373.1 586.2,371.3 596.7,369.0 601.2,367.6 604.7,366.3 608.2,364.7 610.2,363.3 613.2,361.1 615.7,358.9 618.2,356.3 620.2,354.0 624.7,347.7 628.7,340.1 632.2,331.8 636.2,320.3 639.7,308.7 647.7,280.1 650.7,271.1 652.7,266.5 654.7,263.3 655.7,262.2 656.7,261.5 658.2,261.1 659.7,261.8 661.2,263.5 662.7,266.2 665.2,272.1 668.7,283.8 675.2,309.0 677.7,317.9 680.7,326.5 684.7,335.6 686.7,339.4 688.7,342.7 690.7,345.5 693.2,348.4 696.2,351.4 699.2,354.0 703.7,357.4 705.7,358.6 722.2,361.8 734.7,363.4 751.2,364.4 771.2,364.7 785.2,364.6 801.2,364.2 857.7,361.9 879.7,361.2 953.7,359.5 1005.2,358.8 1005.2,359.1 968.7,359.6 927.2,360.5 878.7,361.9 859.2,362.7 784.2,366.8 718.7,369.7 692.2,371.1 648.7,373.9 617.7,376.5 604.2,377.3 550.7,378.2 496.2,378.6 Z" fill="#0000ff"/>
<path d="M496.2,378.1 528.7,377.9 561.2,377.4 599.7,376.4 610.2,375.9 622.2,374.8 691.7,367.8 715.2,364.9 738.7,361.1 742.2,360.8 745.2,360.8 755.2,356.1 760.7,353.1 763.2,351.1 765.2,349.2 767.2,346.9 769.2,344.1 772.7,337.8 776.2,329.4 779.7,319.1 785.2,300.8 787.2,295.1 789.7,288.9 791.7,284.7 793.7,281.6 794.7,280.6 795.7,280.0 797.2,279.6 798.7,279.9 799.7,280.3 801.7,281.7 803.7,284.1 805.7,287.4 807.7,291.7 810.2,297.9 816.2,315.1 818.7,321.4 822.7,329.9 826.2,335.8 827.7,337.9 829.2,339.6 831.7,341.6 834.2,342.9 836.7,346.1 839.2,348.4 842.2,350.5 845.7,352.1 848.7,353.1 852.2,354.0 861.7,355.5 875.7,356.8 892.2,357.6 907.7,358.1 926.7,358.3 1005.2,358.2 1005.2,359.1 973.2,359.5 937.2,360.3 879.2,361.9 856.7,362.8 784.2,366.8 718.7,369.7 691.7,371.1 648.7,373.9 618.2,376.5 604.7,377.3 551.2,378.2 496.2,378.6 Z" fill="#0000ff"/>
<path d="M496.2,377.8 523.2,377.4 547.7,376.8 569.2,376.0 587.7,374.9 601.2,373.8 610.2,372.7 620.7,370.8 629.2,368.7 634.7,366.8 639.2,364.6 643.2,362.1 647.2,358.9 650.7,355.3 654.2,350.9 657.7,346.0 665.7,333.8 669.7,328.6 672.2,326.1 674.2,324.7 676.2,323.8 678.2,323.4 679.7,323.7 681.7,324.6 683.2,325.8 685.2,327.9 688.2,332.0 695.2,343.0 698.7,348.1 702.2,352.3 705.7,355.6 709.7,358.3 712.2,359.5 714.7,360.4 720.7,361.9 728.2,363.0 739.7,363.9 752.7,364.5 767.2,364.8 783.2,364.7 806.7,364.1 856.2,362.0 878.2,361.3 953.2,359.5 1005.2,358.9 1005.2,359.1 969.7,359.6 929.7,360.4 879.2,361.9 859.7,362.7 784.2,366.8 718.7,369.7 692.2,371.1 648.7,373.9 617.7,376.5 604.2,377.3 550.7,378.2 496.2,378.6 Z" fill="#ff00ff" fill-opacity="0.5"/>
<path d="M496.2,378.3 558.2,377.8 596.2,377.0 608.7,376.5 620.7,375.6 647.7,373.1 726.2,366.8 745.2,364.9 760.2,362.9 768.7,361.3 775.2,359.6 780.7,357.5 785.2,355.1 789.7,351.8 793.7,348.2 797.7,343.9 805.7,334.6 809.7,330.6 812.2,328.7 814.2,327.6 816.2,326.9 818.2,326.6 819.7,326.7 821.7,327.3 823.7,328.4 825.7,329.9 829.2,333.2 839.7,344.6 843.2,347.7 846.2,349.9 849.7,351.9 853.2,353.3 857.2,354.6 861.7,355.5 869.2,356.4 880.2,357.3 892.2,358.0 905.7,358.4 934.2,358.6 1005.2,358.4 1005.2,359.1 973.2,359.5 937.7,360.2 879.2,361.9 857.7,362.8 784.2,366.8 718.7,369.7 691.7,371.1 648.7,373.9 618.2,376.5 604.7,377.3 551.2,378.2 496.2,378.6 Z" fill="#ff00ff" fill-opacity="0.5"/>
<g clip-path="url(#cb1)"><path d="M496.2,377.8 523.2,377.4 547.7,376.8 569.2,376.0 587.7,374.9 601.2,373.8 610.2,372.7 620.7,370.8 629.2,368.7 634.7,366.8 639.2,364.6 643.2,362.1 647.2,358.9 650.7,355.3 654.2,350.9 657.7,346.0 665.7,333.8 669.7,328.6 672.2,326.1 674.2,324.7 676.2,323.8 678.2,323.4 679.7,323.7 681.7,324.6 683.2,325.8 685.2,327.9 688.2,332.0 695.2,343.0 698.7,348.1 702.2,352.3 705.7,355.6 709.7,358.3 712.2,359.5 714.7,360.4 720.7,361.9 728.2,363.0 739.7,363.9 752.7,364.5 767.2,364.8 783.2,364.7 806.7,364.1 856.2,362.0 878.2,361.3 953.2,359.5 1005.2,358.9 1005.2,359.1 969.7,359.6 929.7,360.4 879.2,361.9 859.7,362.7 784.2,366.8 718.7,369.7 692.2,371.1 648.7,373.9 617.7,376.5 604.2,377.3 550.7,378.2 496.2,378.6 Z" fill="#ff00ff" fill-opacity="0.34"/><path d="M496.2,378.3 558.2,377.8 596.2,377.0 608.7,376.5 620.7,375.6 647.7,373.1 726.2,366.8 745.2,364.9 760.2,362.9 768.7,361.3 775.2,359.6 780.7,357.5 785.2,355.1 789.7,351.8 793.7,348.2 797.7,343.9 805.7,334.6 809.7,330.6 812.2,328.7 814.2,327.6 816.2,326.9 818.2,326.6 819.7,326.7 821.7,327.3 823.7,328.4 825.7,329.9 829.2,333.2 839.7,344.6 843.2,347.7 846.2,349.9 849.7,351.9 853.2,353.3 857.2,354.6 861.7,355.5 869.2,356.4 880.2,357.3 892.2,358.0 905.7,358.4 934.2,358.6 1005.2,358.4 1005.2,359.1 973.2,359.5 937.7,360.2 879.2,361.9 857.7,362.8 784.2,366.8 718.7,369.7 691.7,371.1 648.7,373.9 618.2,376.5 604.7,377.3 551.2,378.2 496.2,378.6 Z" fill="#ff00ff" fill-opacity="0.34"/></g>
<path d="M496.2,377.8 523.2,377.4 547.7,376.8 569.2,376.0 587.7,374.9 601.2,373.8 610.2,372.7 620.7,370.8 629.2,368.7 634.7,366.8 639.2,364.6 643.2,362.1 647.2,358.9 650.7,355.3 654.2,350.9 657.7,346.0 665.7,333.8 669.7,328.6 672.2,326.1 674.2,324.7 676.2,323.8 678.2,323.4 679.7,323.7 681.7,324.6 683.2,325.8 685.2,327.9 688.2,332.0 695.2,343.0 698.7,348.1 702.2,352.3 705.7,355.6 709.7,358.3 712.2,359.5 714.7,360.4 720.7,361.9 728.2,363.0 739.7,363.9 752.7,364.5 767.2,364.8 783.2,364.7 806.7,364.1 856.2,362.0 878.2,361.3 953.2,359.5 1005.2,358.9" fill="none" stroke="#ff00ff" stroke-width="1.3"/>
<path d="M496.2,378.3 558.2,377.8 596.2,377.0 608.7,376.5 620.7,375.6 647.7,373.1 726.2,366.8 745.2,364.9 760.2,362.9 768.7,361.3 775.2,359.6 780.7,357.5 785.2,355.1 789.7,351.8 793.7,348.2 797.7,343.9 805.7,334.6 809.7,330.6 812.2,328.7 814.2,327.6 816.2,326.9 818.2,326.6 819.7,326.7 821.7,327.3 823.7,328.4 825.7,329.9 829.2,333.2 839.7,344.6 843.2,347.7 846.2,349.9 849.7,351.9 853.2,353.3 857.2,354.6 861.7,355.5 869.2,356.4 880.2,357.3 892.2,358.0 905.7,358.4 934.2,358.6 1005.2,358.4" fill="none" stroke="#ff00ff" stroke-width="1.3"/>
<path d="M496.2,378.1 549.7,377.4 573.7,376.8 595.2,376.0 604.7,375.5 613.2,374.7 623.2,373.4 633.2,371.9 642.7,370.1 650.7,368.3 657.2,366.4 662.7,364.3 667.7,362.0 673.2,359.0 678.2,355.8 689.2,348.3 694.2,345.4 697.2,344.0 699.7,343.1 702.2,342.6 704.7,342.3 707.2,342.4 709.7,342.8 714.7,344.5 719.7,346.9 734.7,355.4 739.7,357.7 744.7,359.5 750.2,361.1 756.2,362.3 762.7,363.1 770.2,363.7 783.7,364.1 800.7,364.0 879.2,361.3 954.2,359.5 1005.2,358.9 1005.2,359.1 970.2,359.5 930.7,360.4 879.2,361.9 859.7,362.7 784.2,366.8 718.7,369.7 692.2,371.1 648.7,373.9 617.7,376.5 604.2,377.3 550.7,378.2 496.2,378.6 Z" fill="#808000" fill-opacity="0.48"/>
<path d="M496.2,378.3 555.2,377.8 590.7,377.2 607.2,376.7 619.2,375.9 649.7,373.1 744.7,366.4 771.2,363.9 783.7,362.4 794.2,360.8 802.7,359.1 809.7,357.2 815.2,355.2 820.7,352.7 825.7,350.0 835.7,344.0 839.7,341.9 844.2,340.3 846.7,339.8 848.7,339.6 850.7,339.6 853.2,339.8 858.2,341.2 862.7,343.2 874.7,349.1 882.2,351.9 889.7,353.8 898.2,355.2 913.7,356.5 934.7,357.3 959.2,357.7 1005.2,358.0 1005.2,359.1 972.7,359.5 936.2,360.3 878.7,361.9 855.7,362.9 784.2,366.8 718.7,369.7 691.7,371.1 648.7,373.9 618.2,376.5 604.7,377.3 551.2,378.2 496.2,378.6 Z" fill="#808000" fill-opacity="0.48"/>
<g clip-path="url(#cbm1)"><path d="M496.2,378.1 549.7,377.4 573.7,376.8 595.2,376.0 604.7,375.5 613.2,374.7 623.2,373.4 633.2,371.9 642.7,370.1 650.7,368.3 657.2,366.4 662.7,364.3 667.7,362.0 673.2,359.0 678.2,355.8 689.2,348.3 694.2,345.4 697.2,344.0 699.7,343.1 702.2,342.6 704.7,342.3 707.2,342.4 709.7,342.8 714.7,344.5 719.7,346.9 734.7,355.4 739.7,357.7 744.7,359.5 750.2,361.1 756.2,362.3 762.7,363.1 770.2,363.7 783.7,364.1 800.7,364.0 879.2,361.3 954.2,359.5 1005.2,358.9 1005.2,359.1 970.2,359.5 930.7,360.4 879.2,361.9 859.7,362.7 784.2,366.8 718.7,369.7 692.2,371.1 648.7,373.9 617.7,376.5 604.2,377.3 550.7,378.2 496.2,378.6 Z" fill="#808000" fill-opacity="0.42"/><path d="M496.2,378.3 555.2,377.8 590.7,377.2 607.2,376.7 619.2,375.9 649.7,373.1 744.7,366.4 771.2,363.9 783.7,362.4 794.2,360.8 802.7,359.1 809.7,357.2 815.2,355.2 820.7,352.7 825.7,350.0 835.7,344.0 839.7,341.9 844.2,340.3 846.7,339.8 848.7,339.6 850.7,339.6 853.2,339.8 858.2,341.2 862.7,343.2 874.7,349.1 882.2,351.9 889.7,353.8 898.2,355.2 913.7,356.5 934.7,357.3 959.2,357.7 1005.2,358.0 1005.2,359.1 972.7,359.5 936.2,360.3 878.7,361.9 855.7,362.9 784.2,366.8 718.7,369.7 691.7,371.1 648.7,373.9 618.2,376.5 604.7,377.3 551.2,378.2 496.2,378.6 Z" fill="#808000" fill-opacity="0.42"/></g>
<path d="M496.2,378.1 549.7,377.4 573.7,376.8 595.2,376.0 604.7,375.5 613.2,374.7 623.2,373.4 633.2,371.9 642.7,370.1 650.7,368.3 657.2,366.4 662.7,364.3 667.7,362.0 673.2,359.0 678.2,355.8 689.2,348.3 694.2,345.4 697.2,344.0 699.7,343.1 702.2,342.6 704.7,342.3 707.2,342.4 709.7,342.8 714.7,344.5 719.7,346.9 734.7,355.4 739.7,357.7 744.7,359.5 750.2,361.1 756.2,362.3 762.7,363.1 770.2,363.7 783.7,364.1 800.7,364.0 879.2,361.3 954.2,359.5 1005.2,358.9" fill="none" stroke="#8a8a10" stroke-width="1.5"/>
<path d="M496.2,378.3 555.2,377.8 590.7,377.2 607.2,376.7 619.2,375.9 649.7,373.1 744.7,366.4 771.2,363.9 783.7,362.4 794.2,360.8 802.7,359.1 809.7,357.2 815.2,355.2 820.7,352.7 825.7,350.0 835.7,344.0 839.7,341.9 844.2,340.3 846.7,339.8 848.7,339.6 850.7,339.6 853.2,339.8 858.2,341.2 862.7,343.2 874.7,349.1 882.2,351.9 889.7,353.8 898.2,355.2 913.7,356.5 934.7,357.3 959.2,357.7 1005.2,358.0" fill="none" stroke="#8a8a10" stroke-width="1.5"/>
<path d="M1005.2,359.9 974.2,360.3 940.2,361.0 885.2,362.5 860.7,363.5 784.2,367.6 718.7,370.5 692.2,371.9 648.7,374.7 617.7,377.3 604.2,378.1 550.7,379.0 496.2,379.4" fill="none" stroke="#3a3aff" stroke-width="1.2"/>
<path d="M1005.2,357.4 974.2,357.8 940.2,358.5 885.2,360.0 860.7,361.0 784.2,365.1 718.7,368.0 692.2,369.4 648.7,372.2 617.7,374.8 604.2,375.6 550.7,376.5 496.2,376.9" fill="none" stroke="#808000" stroke-width="3.4"/>
<path d="M496.2,374.3 522.7,373.2 545.2,371.6 564.2,369.6 571.7,368.5 579.2,367.1 585.2,365.7 590.7,364.2 594.7,362.7 599.2,360.5 603.2,358.3 606.2,356.3 609.7,353.4 614.2,349.4 616.7,346.9 619.2,344.0 621.2,341.3 623.2,338.2 626.7,331.4 630.7,321.5 634.7,309.4 639.2,293.0 641.7,282.6 648.2,252.9 652.2,237.4 654.7,229.9 656.7,225.5 658.7,222.6 659.7,221.9 660.7,221.6 662.2,222.2 663.7,223.5 665.7,225.9 667.7,229.3 693.7,283.6 698.2,291.7 702.7,298.6 706.2,303.1 710.2,307.6 723.2,320.1 728.7,324.8 734.7,329.4 737.7,331.5 740.2,332.7 742.2,333.2 744.2,333.5 749.2,333.6 753.2,333.1 756.7,332.1 760.2,330.6 763.2,328.6 766.2,325.9 768.7,322.8 771.2,318.7 773.2,314.8 775.2,310.2 777.2,304.9 781.2,292.7 789.2,265.5 791.2,259.4 793.2,254.1 795.2,250.1 797.2,247.6 798.2,246.8 799.7,246.0 801.2,245.6 802.2,245.6 803.2,245.8 804.7,246.4 807.7,248.7 810.2,251.3 813.2,255.5 815.7,259.5 820.7,268.4 828.2,283.1 831.7,289.5 837.7,299.7 841.7,305.1 845.2,309.2 849.2,313.3 862.2,325.4 869.7,331.9 873.2,334.6 875.2,335.8 884.2,339.6 890.2,341.4 904.2,344.5 919.7,346.7 931.2,347.7 948.7,348.7 1005.2,350.6" fill="none" stroke="#b8b8b8" stroke-width="1" stroke-dasharray="1.2 3"/>
<path d="M496.2,375.8 523.2,374.7 546.2,373.2 565.2,371.2 573.2,370.1 580.2,368.8 586.2,367.4 591.2,366.0 595.2,364.6 599.7,362.5 603.2,360.7 606.7,358.3 610.2,355.6 614.7,351.6 619.2,346.9 621.2,344.3 623.2,341.2 626.7,334.6 630.7,324.9 634.7,312.9 639.2,296.7 641.7,286.5 648.2,257.0 652.2,241.7 654.7,234.3 656.7,229.9 657.7,228.4 658.7,227.2 659.7,226.5 660.7,226.3 662.2,226.8 663.7,228.2 665.7,230.7 667.2,233.2 693.7,289.1 698.2,297.3 702.7,304.3 706.2,308.8 710.2,313.3 723.2,325.9 728.7,330.7 734.7,335.3 737.7,337.4 740.2,338.6 742.2,339.2 744.2,339.4 749.2,339.5 753.2,339.0 756.7,338.1 760.2,336.5 763.2,334.6 766.2,331.8 768.7,328.7 771.2,324.7 773.2,320.8 775.2,316.2 777.2,310.9 781.2,298.7 789.2,271.5 791.2,265.4 793.2,260.1 795.2,256.1 797.2,253.6 798.2,252.8 799.7,252.0 801.2,251.6 802.2,251.6 803.2,251.8 804.7,252.4 807.7,254.7 810.2,257.3 813.2,261.5 815.7,265.5 820.7,274.4 828.2,289.1 831.7,295.5 837.7,305.7 841.7,311.1 845.2,315.2 849.2,319.3 862.2,331.4 869.7,337.9 873.2,340.6 875.2,341.8 884.2,345.6 890.2,347.4 904.2,350.5 919.7,352.7 931.2,353.7 948.7,354.7 1005.2,356.6" fill="none" stroke="#111" stroke-width="2.6" stroke-linejoin="round"/>
<clipPath id="cb2"><path d="M496.2,555.7 516.2,554.8 534.2,553.4 548.7,551.6 553.7,550.6 558.2,549.5 563.7,549.2 569.2,548.5 574.2,547.3 578.7,545.8 585.2,541.8 589.7,538.4 594.2,534.1 598.2,529.1 601.2,524.4 605.7,515.9 608.7,507.7 611.7,498.2 613.7,491.3 616.2,480.8 618.7,471.5 621.2,463.0 623.2,457.2 625.7,451.1 627.7,447.6 629.2,445.7 630.2,444.8 631.2,444.2 632.2,444.0 633.7,444.3 634.7,445.1 635.7,446.3 637.2,448.9 639.2,453.5 641.2,459.4 643.2,466.0 651.2,495.0 654.2,505.1 657.2,512.3 660.7,518.9 662.7,521.9 665.2,525.0 667.7,527.4 670.7,529.6 673.7,531.4 677.7,533.1 682.2,534.6 687.2,535.9 694.7,537.5 703.2,538.7 712.7,539.7 723.7,540.5 736.2,541.1 750.2,541.5 765.7,541.6 781.2,541.5 808.2,540.9 842.2,539.5 923.7,535.6 1005.2,531.4 1005.2,531.7 993.7,532.3 802.7,542.6 769.7,543.9 702.2,546.0 673.7,547.1 656.7,547.9 648.2,548.5 641.7,549.2 613.2,553.8 606.2,554.7 600.2,555.2 572.2,556.4 545.7,557.3 520.2,557.9 496.2,558.1 Z"/><path d="M496.2,557.6 522.7,557.2 549.7,556.5 578.7,555.2 603.7,553.6 614.7,552.1 636.7,548.0 645.7,546.5 683.7,542.7 700.7,540.6 714.7,538.1 719.7,537.0 723.7,535.8 728.7,533.7 732.2,531.6 735.2,530.2 737.2,529.0 740.7,526.1 744.2,521.9 748.2,515.6 752.2,507.7 755.2,500.9 761.7,484.1 764.7,477.4 767.7,471.4 770.2,467.3 772.2,464.9 774.2,463.4 775.2,462.9 776.7,462.7 778.2,463.1 779.7,464.4 781.2,466.6 783.2,470.6 786.7,479.9 791.7,495.5 794.7,504.1 797.7,511.4 800.7,517.2 802.2,519.5 804.2,522.1 805.7,523.7 807.7,525.5 809.2,526.6 811.2,527.6 816.2,529.5 820.7,530.6 826.7,531.8 833.2,532.8 840.7,533.6 856.2,534.7 875.2,535.1 897.7,535.0 925.7,534.3 961.2,533.0 1005.2,530.9 1005.2,531.7 806.7,542.4 771.7,543.8 685.2,546.6 655.7,548.0 647.7,548.5 641.7,549.2 613.2,553.8 606.2,554.7 600.2,555.2 572.2,556.4 545.7,557.3 520.2,557.9 496.2,558.1 Z"/></clipPath>
<clipPath id="cbm2"><path d="M496.2,555.7 516.2,554.8 534.2,553.4 548.7,551.6 553.7,550.6 558.2,549.5 563.7,549.2 569.2,548.5 574.2,547.3 578.7,545.8 585.2,541.8 589.7,538.4 594.2,534.1 598.2,529.1 601.2,524.4 605.7,515.9 608.7,507.7 611.7,498.2 613.7,491.3 616.2,480.8 618.7,471.5 621.2,463.0 623.2,457.2 625.7,451.1 627.7,447.6 629.2,445.7 630.2,444.8 631.2,444.2 632.2,444.0 633.7,444.3 634.7,445.1 635.7,446.3 637.2,448.9 639.2,453.5 641.2,459.4 643.2,466.0 651.2,495.0 654.2,505.1 657.2,512.3 660.7,518.9 662.7,521.9 665.2,525.0 667.7,527.4 670.7,529.6 673.7,531.4 677.7,533.1 682.2,534.6 687.2,535.9 694.7,537.5 703.2,538.7 712.7,539.7 723.7,540.5 736.2,541.1 750.2,541.5 765.7,541.6 781.2,541.5 808.2,540.9 842.2,539.5 923.7,535.6 1005.2,531.4 1005.2,531.7 993.7,532.3 802.7,542.6 769.7,543.9 702.2,546.0 673.7,547.1 656.7,547.9 648.2,548.5 641.7,549.2 613.2,553.8 606.2,554.7 600.2,555.2 572.2,556.4 545.7,557.3 520.2,557.9 496.2,558.1 Z"/><path d="M496.2,557.6 522.7,557.2 549.7,556.5 578.7,555.2 603.7,553.6 614.7,552.1 636.7,548.0 645.7,546.5 683.7,542.7 700.7,540.6 714.7,538.1 719.7,537.0 723.7,535.8 728.7,533.7 732.2,531.6 735.2,530.2 737.2,529.0 740.7,526.1 744.2,521.9 748.2,515.6 752.2,507.7 755.2,500.9 761.7,484.1 764.7,477.4 767.7,471.4 770.2,467.3 772.2,464.9 774.2,463.4 775.2,462.9 776.7,462.7 778.2,463.1 779.7,464.4 781.2,466.6 783.2,470.6 786.7,479.9 791.7,495.5 794.7,504.1 797.7,511.4 800.7,517.2 802.2,519.5 804.2,522.1 805.7,523.7 807.7,525.5 809.2,526.6 811.2,527.6 816.2,529.5 820.7,530.6 826.7,531.8 833.2,532.8 840.7,533.6 856.2,534.7 875.2,535.1 897.7,535.0 925.7,534.3 961.2,533.0 1005.2,530.9 1005.2,531.7 806.7,542.4 771.7,543.8 685.2,546.6 655.7,548.0 647.7,548.5 641.7,549.2 613.2,553.8 606.2,554.7 600.2,555.2 572.2,556.4 545.7,557.3 520.2,557.9 496.2,558.1 Z"/><path d="M496.2,557.2 513.7,556.9 530.7,556.3 546.2,555.5 559.2,554.6 569.2,553.5 578.2,552.2 586.2,550.6 593.2,548.7 598.2,547.0 602.7,545.1 606.7,543.0 611.2,540.2 616.2,536.6 621.2,532.6 626.7,527.6 638.2,516.8 644.2,511.8 647.2,509.8 650.2,508.3 653.2,507.4 656.2,507.0 658.7,507.1 661.2,507.5 664.2,508.6 667.2,510.1 672.7,513.5 685.2,522.6 691.7,527.0 698.7,531.0 705.7,534.3 713.2,537.0 721.2,539.1 729.7,540.5 739.7,541.5 752.2,542.1 768.2,542.2 786.7,542.0 809.2,541.3 902.7,536.9 1005.2,531.5 1005.2,531.7 965.7,533.9 801.2,542.6 769.2,543.9 702.7,546.0 673.7,547.1 656.7,547.9 648.2,548.5 641.7,549.2 613.2,553.8 606.2,554.7 600.2,555.2 572.2,556.4 545.7,557.3 520.2,557.9 496.2,558.1 Z"/><path d="M496.2,557.3 522.2,556.9 548.7,556.1 576.7,554.8 602.7,553.2 614.2,551.6 636.7,547.3 645.7,545.9 694.7,540.9 709.7,539.0 723.2,536.9 733.2,535.0 741.7,533.1 748.7,531.0 755.2,528.6 760.7,526.1 766.2,523.1 771.2,519.9 782.2,512.4 787.2,509.4 790.2,507.9 792.7,507.0 795.7,506.2 798.2,505.9 800.7,505.9 803.7,506.3 806.7,507.1 809.7,508.3 815.2,511.0 825.7,517.3 830.7,520.0 835.7,522.4 840.7,524.3 846.2,526.1 851.7,527.4 858.2,528.5 865.7,529.6 877.2,530.7 889.7,531.4 903.7,531.9 919.2,532.1 936.7,532.0 956.7,531.7 1005.2,530.0 1005.2,531.7 817.7,541.8 779.2,543.6 704.2,545.9 672.7,547.1 654.2,548.1 647.2,548.6 641.2,549.3 613.2,553.8 606.7,554.7 600.7,555.2 572.2,556.4 545.7,557.3 520.2,557.9 496.2,558.1 Z"/></clipPath>
<path d="M496.2,555.7 516.2,554.8 534.2,553.4 548.7,551.6 553.7,550.6 558.2,549.5 563.7,549.2 569.2,548.5 574.2,547.3 578.7,545.8 585.2,541.8 589.7,538.4 594.2,534.1 598.2,529.1 601.2,524.4 605.7,515.9 608.7,507.7 611.7,498.2 613.7,491.3 616.2,480.8 618.7,471.5 621.2,463.0 623.2,457.2 625.7,451.1 627.7,447.6 629.2,445.7 630.2,444.8 631.2,444.2 632.2,444.0 633.7,444.3 634.7,445.1 635.7,446.3 637.2,448.9 639.2,453.5 641.2,459.4 643.2,466.0 651.2,495.0 654.2,505.1 657.2,512.3 660.7,518.9 662.7,521.9 665.2,525.0 667.7,527.4 670.7,529.6 673.7,531.4 677.7,533.1 682.2,534.6 687.2,535.9 694.7,537.5 703.2,538.7 712.7,539.7 723.7,540.5 736.2,541.1 750.2,541.5 765.7,541.6 781.2,541.5 808.2,540.9 842.2,539.5 923.7,535.6 1005.2,531.4 1005.2,531.7 993.7,532.3 802.7,542.6 769.7,543.9 702.2,546.0 673.7,547.1 656.7,547.9 648.2,548.5 641.7,549.2 613.2,553.8 606.2,554.7 600.2,555.2 572.2,556.4 545.7,557.3 520.2,557.9 496.2,558.1 Z" fill="#0000ff"/>
<path d="M496.2,557.6 522.7,557.2 549.7,556.5 578.7,555.2 603.7,553.6 614.7,552.1 636.7,548.0 645.7,546.5 683.7,542.7 700.7,540.6 714.7,538.1 719.7,537.0 723.7,535.8 728.7,533.7 732.2,531.6 735.2,530.2 737.2,529.0 740.7,526.1 744.2,521.9 748.2,515.6 752.2,507.7 755.2,500.9 761.7,484.1 764.7,477.4 767.7,471.4 770.2,467.3 772.2,464.9 774.2,463.4 775.2,462.9 776.7,462.7 778.2,463.1 779.7,464.4 781.2,466.6 783.2,470.6 786.7,479.9 791.7,495.5 794.7,504.1 797.7,511.4 800.7,517.2 802.2,519.5 804.2,522.1 805.7,523.7 807.7,525.5 809.2,526.6 811.2,527.6 816.2,529.5 820.7,530.6 826.7,531.8 833.2,532.8 840.7,533.6 856.2,534.7 875.2,535.1 897.7,535.0 925.7,534.3 961.2,533.0 1005.2,530.9 1005.2,531.7 806.7,542.4 771.7,543.8 685.2,546.6 655.7,548.0 647.7,548.5 641.7,549.2 613.2,553.8 606.2,554.7 600.2,555.2 572.2,556.4 545.7,557.3 520.2,557.9 496.2,558.1 Z" fill="#0000ff"/>
<path d="M496.2,557.2 513.7,556.9 530.7,556.3 546.2,555.5 559.2,554.6 569.2,553.5 578.2,552.2 586.2,550.6 593.2,548.7 598.2,547.0 602.7,545.1 606.7,543.0 611.2,540.2 616.2,536.6 621.2,532.6 626.7,527.6 638.2,516.8 644.2,511.8 647.2,509.8 650.2,508.3 653.2,507.4 656.2,507.0 658.7,507.1 661.2,507.5 664.2,508.6 667.2,510.1 672.7,513.5 685.2,522.6 691.7,527.0 698.7,531.0 705.7,534.3 713.2,537.0 721.2,539.1 729.7,540.5 739.7,541.5 752.2,542.1 768.2,542.2 786.7,542.0 809.2,541.3 902.7,536.9 1005.2,531.5 1005.2,531.7 965.7,533.9 801.2,542.6 769.2,543.9 702.7,546.0 673.7,547.1 656.7,547.9 648.2,548.5 641.7,549.2 613.2,553.8 606.2,554.7 600.2,555.2 572.2,556.4 545.7,557.3 520.2,557.9 496.2,558.1 Z" fill="#ff00ff" fill-opacity="0.5"/>
<path d="M496.2,557.3 522.2,556.9 548.7,556.1 576.7,554.8 602.7,553.2 614.2,551.6 636.7,547.3 645.7,545.9 694.7,540.9 709.7,539.0 723.2,536.9 733.2,535.0 741.7,533.1 748.7,531.0 755.2,528.6 760.7,526.1 766.2,523.1 771.2,519.9 782.2,512.4 787.2,509.4 790.2,507.9 792.7,507.0 795.7,506.2 798.2,505.9 800.7,505.9 803.7,506.3 806.7,507.1 809.7,508.3 815.2,511.0 825.7,517.3 830.7,520.0 835.7,522.4 840.7,524.3 846.2,526.1 851.7,527.4 858.2,528.5 865.7,529.6 877.2,530.7 889.7,531.4 903.7,531.9 919.2,532.1 936.7,532.0 956.7,531.7 1005.2,530.0 1005.2,531.7 817.7,541.8 779.2,543.6 704.2,545.9 672.7,547.1 654.2,548.1 647.2,548.6 641.2,549.3 613.2,553.8 606.7,554.7 600.7,555.2 572.2,556.4 545.7,557.3 520.2,557.9 496.2,558.1 Z" fill="#ff00ff" fill-opacity="0.5"/>
<g clip-path="url(#cb2)"><path d="M496.2,557.2 513.7,556.9 530.7,556.3 546.2,555.5 559.2,554.6 569.2,553.5 578.2,552.2 586.2,550.6 593.2,548.7 598.2,547.0 602.7,545.1 606.7,543.0 611.2,540.2 616.2,536.6 621.2,532.6 626.7,527.6 638.2,516.8 644.2,511.8 647.2,509.8 650.2,508.3 653.2,507.4 656.2,507.0 658.7,507.1 661.2,507.5 664.2,508.6 667.2,510.1 672.7,513.5 685.2,522.6 691.7,527.0 698.7,531.0 705.7,534.3 713.2,537.0 721.2,539.1 729.7,540.5 739.7,541.5 752.2,542.1 768.2,542.2 786.7,542.0 809.2,541.3 902.7,536.9 1005.2,531.5 1005.2,531.7 965.7,533.9 801.2,542.6 769.2,543.9 702.7,546.0 673.7,547.1 656.7,547.9 648.2,548.5 641.7,549.2 613.2,553.8 606.2,554.7 600.2,555.2 572.2,556.4 545.7,557.3 520.2,557.9 496.2,558.1 Z" fill="#ff00ff" fill-opacity="0.34"/><path d="M496.2,557.3 522.2,556.9 548.7,556.1 576.7,554.8 602.7,553.2 614.2,551.6 636.7,547.3 645.7,545.9 694.7,540.9 709.7,539.0 723.2,536.9 733.2,535.0 741.7,533.1 748.7,531.0 755.2,528.6 760.7,526.1 766.2,523.1 771.2,519.9 782.2,512.4 787.2,509.4 790.2,507.9 792.7,507.0 795.7,506.2 798.2,505.9 800.7,505.9 803.7,506.3 806.7,507.1 809.7,508.3 815.2,511.0 825.7,517.3 830.7,520.0 835.7,522.4 840.7,524.3 846.2,526.1 851.7,527.4 858.2,528.5 865.7,529.6 877.2,530.7 889.7,531.4 903.7,531.9 919.2,532.1 936.7,532.0 956.7,531.7 1005.2,530.0 1005.2,531.7 817.7,541.8 779.2,543.6 704.2,545.9 672.7,547.1 654.2,548.1 647.2,548.6 641.2,549.3 613.2,553.8 606.7,554.7 600.7,555.2 572.2,556.4 545.7,557.3 520.2,557.9 496.2,558.1 Z" fill="#ff00ff" fill-opacity="0.34"/></g>
<path d="M496.2,557.2 513.7,556.9 530.7,556.3 546.2,555.5 559.2,554.6 569.2,553.5 578.2,552.2 586.2,550.6 593.2,548.7 598.2,547.0 602.7,545.1 606.7,543.0 611.2,540.2 616.2,536.6 621.2,532.6 626.7,527.6 638.2,516.8 644.2,511.8 647.2,509.8 650.2,508.3 653.2,507.4 656.2,507.0 658.7,507.1 661.2,507.5 664.2,508.6 667.2,510.1 672.7,513.5 685.2,522.6 691.7,527.0 698.7,531.0 705.7,534.3 713.2,537.0 721.2,539.1 729.7,540.5 739.7,541.5 752.2,542.1 768.2,542.2 786.7,542.0 809.2,541.3 902.7,536.9 1005.2,531.5" fill="none" stroke="#ff00ff" stroke-width="1.3"/>
<path d="M496.2,557.3 522.2,556.9 548.7,556.1 576.7,554.8 602.7,553.2 614.2,551.6 636.7,547.3 645.7,545.9 694.7,540.9 709.7,539.0 723.2,536.9 733.2,535.0 741.7,533.1 748.7,531.0 755.2,528.6 760.7,526.1 766.2,523.1 771.2,519.9 782.2,512.4 787.2,509.4 790.2,507.9 792.7,507.0 795.7,506.2 798.2,505.9 800.7,505.9 803.7,506.3 806.7,507.1 809.7,508.3 815.2,511.0 825.7,517.3 830.7,520.0 835.7,522.4 840.7,524.3 846.2,526.1 851.7,527.4 858.2,528.5 865.7,529.6 877.2,530.7 889.7,531.4 903.7,531.9 919.2,532.1 936.7,532.0 956.7,531.7 1005.2,530.0" fill="none" stroke="#ff00ff" stroke-width="1.3"/>
<path d="M496.2,554.8 523.2,554.1 550.2,552.8 576.2,551.0 600.7,548.8 606.2,548.1 612.7,546.9 640.7,540.3 646.7,539.1 653.2,538.0 672.7,535.3 691.2,533.0 707.2,531.5 721.7,530.5 737.2,530.0 753.2,530.0 768.2,530.5 822.2,532.7 842.7,533.1 864.2,533.1 892.2,532.8 923.2,532.1 961.7,530.8 1005.2,529.1 1005.2,531.7 953.2,534.6 796.2,542.9 768.7,543.9 686.2,546.6 652.7,548.2 646.7,548.6 640.7,549.3 613.2,553.8 606.7,554.7 600.7,555.2 572.2,556.4 545.7,557.3 520.2,557.9 496.2,558.1 Z" fill="#808000" fill-opacity="0.48"/>
<path d="M496.2,557.6 521.2,557.4 546.7,556.7 573.7,555.7 601.2,554.3 612.2,553.1 637.7,548.7 648.7,547.3 666.7,546.0 728.2,542.6 755.7,540.5 771.7,538.8 786.7,536.8 804.2,533.9 834.7,528.0 846.7,525.9 859.2,524.2 871.2,523.1 883.7,522.8 897.7,523.2 910.2,524.1 944.2,527.0 965.2,528.2 984.2,528.7 1005.2,528.7 1005.2,531.7 996.2,532.2 799.7,542.7 770.2,543.9 684.2,546.7 651.7,548.2 640.7,549.3 613.2,553.8 606.7,554.7 600.7,555.2 572.2,556.4 545.7,557.3 520.2,557.9 496.2,558.1 Z" fill="#808000" fill-opacity="0.48"/>
<g clip-path="url(#cbm2)"><path d="M496.2,554.8 523.2,554.1 550.2,552.8 576.2,551.0 600.7,548.8 606.2,548.1 612.7,546.9 640.7,540.3 646.7,539.1 653.2,538.0 672.7,535.3 691.2,533.0 707.2,531.5 721.7,530.5 737.2,530.0 753.2,530.0 768.2,530.5 822.2,532.7 842.7,533.1 864.2,533.1 892.2,532.8 923.2,532.1 961.7,530.8 1005.2,529.1 1005.2,531.7 953.2,534.6 796.2,542.9 768.7,543.9 686.2,546.6 652.7,548.2 646.7,548.6 640.7,549.3 613.2,553.8 606.7,554.7 600.7,555.2 572.2,556.4 545.7,557.3 520.2,557.9 496.2,558.1 Z" fill="#808000" fill-opacity="0.42"/><path d="M496.2,557.6 521.2,557.4 546.7,556.7 573.7,555.7 601.2,554.3 612.2,553.1 637.7,548.7 648.7,547.3 666.7,546.0 728.2,542.6 755.7,540.5 771.7,538.8 786.7,536.8 804.2,533.9 834.7,528.0 846.7,525.9 859.2,524.2 871.2,523.1 883.7,522.8 897.7,523.2 910.2,524.1 944.2,527.0 965.2,528.2 984.2,528.7 1005.2,528.7 1005.2,531.7 996.2,532.2 799.7,542.7 770.2,543.9 684.2,546.7 651.7,548.2 640.7,549.3 613.2,553.8 606.7,554.7 600.7,555.2 572.2,556.4 545.7,557.3 520.2,557.9 496.2,558.1 Z" fill="#808000" fill-opacity="0.42"/></g>
<path d="M496.2,554.8 523.2,554.1 550.2,552.8 576.2,551.0 600.7,548.8 606.2,548.1 612.7,546.9 640.7,540.3 646.7,539.1 653.2,538.0 672.7,535.3 691.2,533.0 707.2,531.5 721.7,530.5 737.2,530.0 753.2,530.0 768.2,530.5 822.2,532.7 842.7,533.1 864.2,533.1 892.2,532.8 923.2,532.1 961.7,530.8 1005.2,529.1" fill="none" stroke="#8a8a10" stroke-width="1.5"/>
<path d="M496.2,557.6 521.2,557.4 546.7,556.7 573.7,555.7 601.2,554.3 612.2,553.1 637.7,548.7 648.7,547.3 666.7,546.0 728.2,542.6 755.7,540.5 771.7,538.8 786.7,536.8 804.2,533.9 834.7,528.0 846.7,525.9 859.2,524.2 871.2,523.1 883.7,522.8 897.7,523.2 910.2,524.1 944.2,527.0 965.2,528.2 984.2,528.7 1005.2,528.7" fill="none" stroke="#8a8a10" stroke-width="1.5"/>
<path d="M1005.2,532.5 799.7,543.5 768.7,544.7 703.2,546.8 674.2,547.9 657.2,548.7 648.2,549.3 642.2,549.9 634.7,551.0 613.2,554.6 606.2,555.5 600.2,556.0 572.2,557.2 545.7,558.1 520.2,558.7 496.2,558.9" fill="none" stroke="#3a3aff" stroke-width="1.2"/>
<path d="M1005.2,530.0 799.7,541.0 768.7,542.2 703.2,544.3 674.2,545.4 657.2,546.2 648.2,546.8 642.2,547.4 634.7,548.5 613.2,552.1 606.2,553.0 600.2,553.5 572.2,554.7 545.7,555.6 520.2,556.2 496.2,556.4" fill="none" stroke="#808000" stroke-width="3.4"/>
<path d="M496.2,551.3 521.2,547.8 535.7,545.3 553.7,541.5 567.7,537.6 570.2,536.8 572.7,535.6 580.7,531.0 585.2,527.6 589.7,523.3 593.2,519.1 596.7,513.9 598.7,511.3 601.7,505.6 604.2,499.5 607.7,489.1 611.2,476.6 621.7,433.2 625.2,420.0 627.7,413.0 629.7,408.7 631.7,405.8 632.7,405.2 633.7,405.0 635.2,405.2 636.7,406.3 638.7,408.7 640.7,412.1 643.7,418.6 652.2,440.0 656.2,449.1 661.7,459.5 665.2,465.3 668.2,469.8 675.7,480.1 677.7,482.4 680.2,484.8 684.7,488.7 688.7,491.7 692.7,494.2 696.7,496.2 699.7,496.4 705.7,498.3 711.2,499.4 715.2,499.6 720.2,498.9 725.7,497.7 730.2,495.9 734.7,493.0 738.7,489.6 741.7,486.2 744.7,481.9 747.2,477.6 750.2,471.5 755.2,459.3 764.7,433.0 766.7,428.1 768.7,423.8 770.7,420.3 772.7,417.7 775.2,415.8 776.7,415.1 777.7,415.0 778.7,415.2 780.2,416.2 781.7,418.0 783.7,421.0 787.2,427.3 792.7,438.8 800.2,453.4 804.2,459.6 813.2,471.9 817.2,476.5 821.7,481.3 825.7,485.2 829.7,488.7 833.2,491.5 837.2,494.2 841.2,496.6 845.7,498.9 850.7,501.0 855.7,502.9 864.2,505.6 869.7,507.1 879.7,509.4 890.2,511.6 899.7,513.3 909.7,514.9 933.2,517.7 946.7,519.0 960.2,520.0 981.2,521.2 1005.2,521.7" fill="none" stroke="#b8b8b8" stroke-width="1" stroke-dasharray="1.2 3"/>
<path d="M496.2,552.8 521.2,549.3 536.2,546.7 554.2,543.0 568.2,539.2 570.7,538.3 573.2,537.1 581.2,532.5 585.7,529.2 589.7,525.3 593.2,521.2 596.7,516.1 598.7,513.5 601.7,507.9 604.2,501.9 607.2,493.2 610.7,481.1 614.2,467.4 622.2,434.2 625.2,423.1 627.7,416.2 629.7,412.0 631.7,409.2 632.7,408.6 633.7,408.4 635.2,408.8 636.7,409.9 638.7,412.4 640.7,415.9 643.7,422.5 652.2,444.3 656.2,453.5 658.7,458.6 662.2,465.0 668.2,474.7 675.7,485.2 677.7,487.6 680.2,490.0 684.7,494.0 688.7,497.1 692.7,499.7 696.7,501.8 699.7,502.0 705.7,504.0 711.2,505.2 715.2,505.4 720.2,504.8 725.7,503.5 730.2,501.7 734.7,498.9 738.7,495.5 741.7,492.1 744.7,487.9 747.2,483.6 750.2,477.5 755.2,465.3 764.7,439.0 766.7,434.0 768.7,429.8 770.7,426.2 772.7,423.7 775.2,421.8 776.7,421.1 777.7,421.0 778.7,421.2 780.2,422.2 781.7,423.9 783.7,427.0 787.2,433.3 792.7,444.8 800.2,459.4 804.2,465.6 813.2,477.9 817.2,482.5 821.7,487.3 825.7,491.2 829.7,494.7 833.2,497.5 837.2,500.2 841.2,502.6 845.7,504.9 850.7,507.0 855.7,508.9 864.2,511.6 869.7,513.1 879.7,515.4 890.2,517.6 899.7,519.3 909.7,520.9 933.2,523.7 946.7,525.0 960.2,526.0 981.2,527.2 1005.2,527.7" fill="none" stroke="#111" stroke-width="2.6" stroke-linejoin="round"/>
<rect x="495.2" y="22.7" width="511.00000000000006" height="557.0999999999999" fill="none" stroke="#333" stroke-width="2"/>
<line x1="495.2" y1="208.2" x2="1006.2" y2="208.2" stroke="#333" stroke-width="2"/>
<line x1="495.2" y1="394.2" x2="1006.2" y2="394.2" stroke="#333" stroke-width="2"/>
<line x1="580.9" y1="208.2" x2="580.9" y2="203.7" stroke="#333" stroke-width="1.6"/>
<line x1="686.3" y1="208.2" x2="686.3" y2="203.7" stroke="#333" stroke-width="1.6"/>
<line x1="793.2" y1="208.2" x2="793.2" y2="203.7" stroke="#333" stroke-width="1.6"/>
<line x1="899.6" y1="208.2" x2="899.6" y2="203.7" stroke="#333" stroke-width="1.6"/>
<line x1="580.9" y1="394.2" x2="580.9" y2="389.7" stroke="#333" stroke-width="1.6"/>
<line x1="686.3" y1="394.2" x2="686.3" y2="389.7" stroke="#333" stroke-width="1.6"/>
<line x1="793.2" y1="394.2" x2="793.2" y2="389.7" stroke="#333" stroke-width="1.6"/>
<line x1="899.6" y1="394.2" x2="899.6" y2="389.7" stroke="#333" stroke-width="1.6"/>
<line x1="537.78" y1="579.8" x2="537.78" y2="576.3" stroke="#333" stroke-width="1.6"/>
<line x1="580.37" y1="579.8" x2="580.37" y2="574.8" stroke="#333" stroke-width="1.6"/>
<line x1="622.95" y1="579.8" x2="622.95" y2="576.3" stroke="#333" stroke-width="1.6"/>
<line x1="665.53" y1="579.8" x2="665.53" y2="574.8" stroke="#333" stroke-width="1.6"/>
<line x1="708.12" y1="579.8" x2="708.12" y2="576.3" stroke="#333" stroke-width="1.6"/>
<line x1="750.70" y1="579.8" x2="750.70" y2="574.8" stroke="#333" stroke-width="1.6"/>
<line x1="793.28" y1="579.8" x2="793.28" y2="576.3" stroke="#333" stroke-width="1.6"/>
<line x1="835.87" y1="579.8" x2="835.87" y2="574.8" stroke="#333" stroke-width="1.6"/>
<line x1="878.45" y1="579.8" x2="878.45" y2="576.3" stroke="#333" stroke-width="1.6"/>
<line x1="921.03" y1="579.8" x2="921.03" y2="574.8" stroke="#333" stroke-width="1.6"/>
<line x1="963.62" y1="579.8" x2="963.62" y2="576.3" stroke="#333" stroke-width="1.6"/>
<line x1="632.2" y1="39.5" x2="632.2" y2="569" stroke="#1a1a1a" stroke-width="2.8" stroke-dasharray="9.5 12"/>
<text transform="translate(506.85,55.90) scale(1.003,1)" font-size="28.2" fill="#1a1a1a">(b)</text>
<text transform="translate(665.90,43.60) scale(1.008,1)" font-size="14" fill="#505050">Pt 4f<tspan font-size="0.62em" dy="0.484em">7/2</tspan></text>
<text transform="translate(808.78,50.10) scale(1.038,1)" font-size="14" fill="#505050">Pt 4f<tspan font-size="0.62em" dy="0.484em">5/2</tspan></text>
<text transform="translate(890.62,50.40) scale(0.950,1)" font-size="17.8" fill="#333333">Pt-TiO<tspan font-size="0.55em" dy="0.600em">2</tspan><tspan dy="-0.33em" dx="0.02em">@C/CP</tspan></text>
<text transform="translate(910.70,237.30) scale(1.000,1)" font-size="17" fill="#404040">Pt nanowire</text>
<text transform="translate(905.05,423.30) scale(0.996,1)" font-size="17" fill="#404040">40 wt% Pt/C</text>
<text transform="translate(640.53,622.70) scale(1.021,1)" font-size="22.8" fill="#333333">Binding Energy (eV)</text>
<line x1="505.6" y1="86.8" x2="527.3" y2="86.8" stroke="#0000ff" stroke-width="3.8"/>
<line x1="505.6" y1="108.5" x2="527.3" y2="108.5" stroke="#ff00ff" stroke-width="3.8"/>
<line x1="505.6" y1="128.9" x2="527.3" y2="128.9" stroke="#808000" stroke-width="3.8"/>
<text transform="translate(534.88,91.2) scale(1.036,1)" font-size="14" fill="#606060">Pt<tspan font-size="7.5" dy="-6.5" dx="1.2">0</tspan></text>
<text transform="translate(534.88,112.9) scale(1.036,1)" font-size="14" fill="#606060">Pt<tspan font-size="7.5" dy="-6.5" dx="1.2">2+</tspan></text>
<text transform="translate(534.88,133.1) scale(1.036,1)" font-size="14" fill="#606060">Pt<tspan font-size="7.5" dy="-6.5" dx="1.2">4+</tspan></text>
<text transform="translate(494.40,598.80) scale(0.988,1)" font-size="17.5" fill="#6a6a6a" text-anchor="middle">68</text>
<text transform="translate(579.57,598.80) scale(0.988,1)" font-size="17.5" fill="#6a6a6a" text-anchor="middle">70</text>
<text transform="translate(664.73,598.80) scale(0.988,1)" font-size="17.5" fill="#6a6a6a" text-anchor="middle">72</text>
<text transform="translate(749.90,598.80) scale(0.988,1)" font-size="17.5" fill="#6a6a6a" text-anchor="middle">74</text>
<text transform="translate(835.07,598.80) scale(0.988,1)" font-size="17.5" fill="#6a6a6a" text-anchor="middle">76</text>
<text transform="translate(920.23,598.80) scale(0.988,1)" font-size="17.5" fill="#6a6a6a" text-anchor="middle">78</text>
<text transform="translate(1005.40,598.80) scale(0.988,1)" font-size="17.5" fill="#6a6a6a" text-anchor="middle">80</text>
</svg></body></html>
